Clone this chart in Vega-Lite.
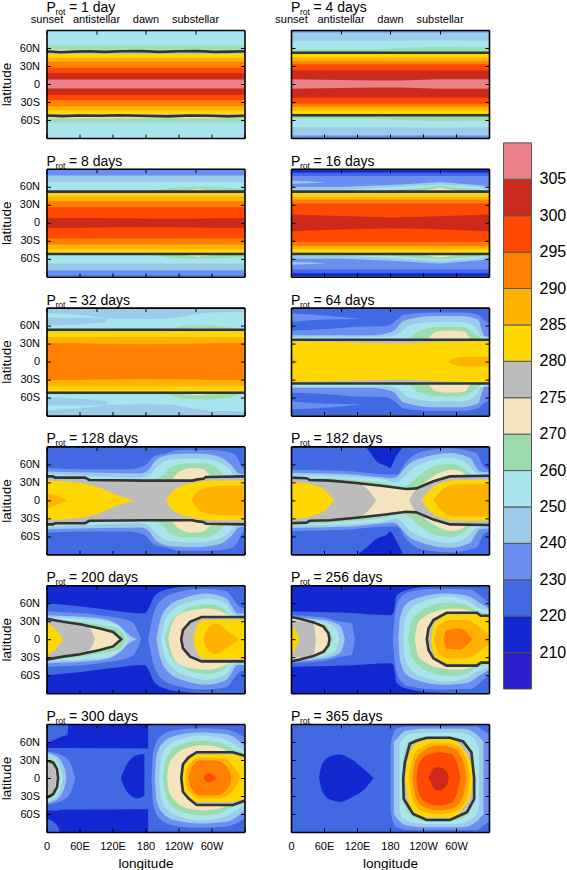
{"$schema":"https://vega.github.io/schema/vega-lite/v6.json","padding":{"left":-1.5,"top":0,"right":0,"bottom":0},"background":"white","spacing":13,
"config":{"view":{"stroke":null},"font":"Liberation Sans","range":{"ordinal":["#2a1fc8","#1428d2","#4169e1","#6a8ff0","#9bcbe8","#a8e4ec","#9cdbab","#f3e4bd","#bcbcbc","#ffd700","#ffb300","#ff8000","#ff4800","#cd2a1e","#ea8088"]},"axis":{"grid":false,"domainColor":"black","domainWidth":1.6,"tickColor":"black","tickWidth":1,"labelColor":"black","titleColor":"black","labelFont":"Liberation Sans","titleFont":"Liberation Sans","labelFontSize":11,"titleFontSize":13.5,"titleFontWeight":"normal","labelOverlap":false,"labelFlush":false,"labelBound":false},"text":{"font":"Liberation Sans","color":"black"}},
"datasets":{
"titles":[{"p":1,"t":"= 1 day"},{"p":2,"t":"= 4 days"},{"p":3,"t":"= 8 days"},{"p":4,"t":"= 16 days"},{"p":5,"t":"= 32 days"},{"p":6,"t":"= 64 days"},{"p":7,"t":"= 128 days"},{"p":8,"t":"= 182 days"},{"p":9,"t":"= 200 days"},{"p":10,"t":"= 256 days"},{"p":11,"t":"= 300 days"},{"p":12,"t":"= 365 days"}],
"bar":[{"i":0,"j":1,"b":0,"lab":"210"},{"i":1,"j":2,"b":1,"lab":"220"},{"i":2,"j":3,"b":2,"lab":"230"},{"i":3,"j":4,"b":3,"lab":"240"},{"i":4,"j":5,"b":4,"lab":"250"},{"i":5,"j":6,"b":5,"lab":"260"},{"i":6,"j":7,"b":6,"lab":"270"},{"i":7,"j":8,"b":7,"lab":"275"},{"i":8,"j":9,"b":8,"lab":"280"},{"i":9,"j":10,"b":9,"lab":"285"},{"i":10,"j":11,"b":10,"lab":"290"},{"i":11,"j":12,"b":11,"lab":"295"},{"i":12,"j":13,"b":12,"lab":"300"},{"i":13,"j":14,"b":13,"lab":"305"},{"i":14,"j":15,"b":14,"lab":""}],
"lines":[
{"p":1,"g":1,"i":0,"x":0,"y":54.5},{"p":1,"g":1,"i":1,"x":25,"y":53},{"p":1,"g":1,"i":2,"x":50,"y":54},{"p":1,"g":1,"i":3,"x":80,"y":54.5},{"p":1,"g":1,"i":4,"x":105,"y":53.5},{"p":1,"g":1,"i":5,"x":135,"y":54.5},{"p":1,"g":1,"i":6,"x":170,"y":55},{"p":1,"g":1,"i":7,"x":205,"y":53.5},{"p":1,"g":1,"i":8,"x":240,"y":54.5},{"p":1,"g":1,"i":9,"x":275,"y":55},{"p":1,"g":1,"i":10,"x":305,"y":53.5},{"p":1,"g":1,"i":11,"x":335,"y":54},{"p":1,"g":1,"i":12,"x":360,"y":54.5},
{"p":1,"g":2,"i":0,"x":0,"y":-52.5},{"p":1,"g":2,"i":1,"x":30,"y":-53.5},{"p":1,"g":2,"i":2,"x":60,"y":-52.5},{"p":1,"g":2,"i":3,"x":100,"y":-53},{"p":1,"g":2,"i":4,"x":130,"y":-52},{"p":1,"g":2,"i":5,"x":170,"y":-53},{"p":1,"g":2,"i":6,"x":220,"y":-54},{"p":1,"g":2,"i":7,"x":260,"y":-52.5},{"p":1,"g":2,"i":8,"x":300,"y":-53},{"p":1,"g":2,"i":9,"x":330,"y":-54},{"p":1,"g":2,"i":10,"x":360,"y":-53},
{"p":2,"g":1,"i":0,"x":0,"y":52},{"p":2,"g":1,"i":1,"x":360,"y":52},{"p":2,"g":2,"i":0,"x":0,"y":-52},{"p":2,"g":2,"i":1,"x":360,"y":-52},
{"p":3,"g":1,"i":0,"x":0,"y":52},{"p":3,"g":1,"i":1,"x":360,"y":52},{"p":3,"g":2,"i":0,"x":0,"y":-52},{"p":3,"g":2,"i":1,"x":360,"y":-52},
{"p":4,"g":1,"i":0,"x":0,"y":52},{"p":4,"g":1,"i":1,"x":360,"y":52},{"p":4,"g":2,"i":0,"x":0,"y":-52},{"p":4,"g":2,"i":1,"x":360,"y":-52},
{"p":5,"g":1,"i":0,"x":0,"y":53},{"p":5,"g":1,"i":1,"x":360,"y":53},{"p":5,"g":2,"i":0,"x":0,"y":-52},{"p":5,"g":2,"i":1,"x":360,"y":-52},
{"p":6,"g":1,"i":0,"x":0,"y":36.5},{"p":6,"g":1,"i":1,"x":360,"y":36.5},{"p":6,"g":2,"i":0,"x":0,"y":-36.5},{"p":6,"g":2,"i":1,"x":360,"y":-36.5},
{"p":7,"g":1,"i":0,"x":0,"y":40},{"p":7,"g":1,"i":1,"x":12,"y":40},{"p":7,"g":1,"i":2,"x":16,"y":38},{"p":7,"g":1,"i":3,"x":70,"y":38},{"p":7,"g":1,"i":4,"x":78,"y":34},{"p":7,"g":1,"i":5,"x":180,"y":33},{"p":7,"g":1,"i":6,"x":265,"y":33},{"p":7,"g":1,"i":7,"x":275,"y":35},{"p":7,"g":1,"i":8,"x":285,"y":36},{"p":7,"g":1,"i":9,"x":290,"y":39},{"p":7,"g":1,"i":10,"x":360,"y":40},
{"p":7,"g":2,"i":0,"x":0,"y":-40},{"p":7,"g":2,"i":1,"x":12,"y":-40},{"p":7,"g":2,"i":2,"x":16,"y":-38},{"p":7,"g":2,"i":3,"x":70,"y":-38},{"p":7,"g":2,"i":4,"x":78,"y":-34},{"p":7,"g":2,"i":5,"x":180,"y":-33},{"p":7,"g":2,"i":6,"x":265,"y":-33},{"p":7,"g":2,"i":7,"x":275,"y":-35},{"p":7,"g":2,"i":8,"x":285,"y":-36},{"p":7,"g":2,"i":9,"x":290,"y":-39},{"p":7,"g":2,"i":10,"x":360,"y":-40},
{"p":8,"g":1,"i":0,"x":0,"y":38},{"p":8,"g":1,"i":1,"x":28,"y":37},{"p":8,"g":1,"i":2,"x":34,"y":34},{"p":8,"g":1,"i":3,"x":71,"y":33},{"p":8,"g":1,"i":4,"x":119,"y":29},{"p":8,"g":1,"i":5,"x":168,"y":24},{"p":8,"g":1,"i":6,"x":210,"y":19},{"p":8,"g":1,"i":7,"x":228,"y":20},{"p":8,"g":1,"i":8,"x":259,"y":32},{"p":8,"g":1,"i":9,"x":289,"y":40},{"p":8,"g":1,"i":10,"x":360,"y":41},
{"p":8,"g":2,"i":0,"x":0,"y":-38},{"p":8,"g":2,"i":1,"x":28,"y":-37},{"p":8,"g":2,"i":2,"x":34,"y":-34},{"p":8,"g":2,"i":3,"x":71,"y":-33},{"p":8,"g":2,"i":4,"x":119,"y":-29},{"p":8,"g":2,"i":5,"x":168,"y":-24},{"p":8,"g":2,"i":6,"x":210,"y":-19},{"p":8,"g":2,"i":7,"x":228,"y":-20},{"p":8,"g":2,"i":8,"x":259,"y":-32},{"p":8,"g":2,"i":9,"x":289,"y":-40},{"p":8,"g":2,"i":10,"x":360,"y":-41},
{"p":9,"g":1,"i":0,"x":0,"y":34},{"p":9,"g":1,"i":1,"x":12,"y":32},{"p":9,"g":1,"i":2,"x":30,"y":29},{"p":9,"g":1,"i":3,"x":61,"y":25},{"p":9,"g":1,"i":4,"x":97,"y":18},{"p":9,"g":1,"i":5,"x":121,"y":12},{"p":9,"g":1,"i":6,"x":136,"y":0},{"p":9,"g":1,"i":7,"x":121,"y":-12},{"p":9,"g":1,"i":8,"x":97,"y":-18},{"p":9,"g":1,"i":9,"x":61,"y":-25},{"p":9,"g":1,"i":10,"x":30,"y":-29},{"p":9,"g":1,"i":11,"x":12,"y":-32},{"p":9,"g":1,"i":12,"x":0,"y":-34},
{"p":9,"g":2,"i":0,"x":360,"y":37},{"p":9,"g":2,"i":1,"x":282,"y":37},{"p":9,"g":2,"i":2,"x":261,"y":29},{"p":9,"g":2,"i":3,"x":248,"y":15},{"p":9,"g":2,"i":4,"x":245,"y":0},{"p":9,"g":2,"i":5,"x":248,"y":-15},{"p":9,"g":2,"i":6,"x":261,"y":-29},{"p":9,"g":2,"i":7,"x":282,"y":-37},{"p":9,"g":2,"i":8,"x":360,"y":-37},
{"p":10,"g":1,"i":0,"x":0,"y":37},{"p":10,"g":1,"i":1,"x":16,"y":34},{"p":10,"g":1,"i":2,"x":41,"y":28},{"p":10,"g":1,"i":3,"x":59,"y":21},{"p":10,"g":1,"i":4,"x":68,"y":10},{"p":10,"g":1,"i":5,"x":70,"y":0},{"p":10,"g":1,"i":6,"x":68,"y":-10},{"p":10,"g":1,"i":7,"x":59,"y":-21},{"p":10,"g":1,"i":8,"x":41,"y":-28},{"p":10,"g":1,"i":9,"x":16,"y":-34},{"p":10,"g":1,"i":10,"x":0,"y":-37},
{"p":10,"g":2,"i":0,"x":360,"y":39},{"p":10,"g":2,"i":1,"x":345,"y":39},{"p":10,"g":2,"i":2,"x":338,"y":44},{"p":10,"g":2,"i":3,"x":283,"y":44},{"p":10,"g":2,"i":4,"x":259,"y":32},{"p":10,"g":2,"i":5,"x":250,"y":18},{"p":10,"g":2,"i":6,"x":247,"y":0},{"p":10,"g":2,"i":7,"x":250,"y":-18},{"p":10,"g":2,"i":8,"x":259,"y":-32},{"p":10,"g":2,"i":9,"x":283,"y":-44},{"p":10,"g":2,"i":10,"x":338,"y":-44},{"p":10,"g":2,"i":11,"x":345,"y":-39},{"p":10,"g":2,"i":12,"x":360,"y":-39},
{"p":11,"g":1,"i":0,"x":0,"y":29},{"p":11,"g":1,"i":1,"x":12,"y":26},{"p":11,"g":1,"i":2,"x":19,"y":15},{"p":11,"g":1,"i":3,"x":21,"y":0},{"p":11,"g":1,"i":4,"x":19,"y":-15},{"p":11,"g":1,"i":5,"x":12,"y":-27},{"p":11,"g":1,"i":6,"x":0,"y":-33},
{"p":11,"g":2,"i":0,"x":360,"y":37},{"p":11,"g":2,"i":1,"x":339,"y":43},{"p":11,"g":2,"i":2,"x":273,"y":43},{"p":11,"g":2,"i":3,"x":258,"y":34},{"p":11,"g":2,"i":4,"x":248,"y":23},{"p":11,"g":2,"i":5,"x":245,"y":0},{"p":11,"g":2,"i":6,"x":248,"y":-23},{"p":11,"g":2,"i":7,"x":258,"y":-34},{"p":11,"g":2,"i":8,"x":273,"y":-45},{"p":11,"g":2,"i":9,"x":339,"y":-45},{"p":11,"g":2,"i":10,"x":360,"y":-38},
{"p":12,"g":1,"i":0,"x":204,"y":0},{"p":12,"g":1,"i":1,"x":207,"y":26},{"p":12,"g":1,"i":2,"x":216,"y":57},{"p":12,"g":1,"i":3,"x":228,"y":62},{"p":12,"g":1,"i":4,"x":247,"y":67},{"p":12,"g":1,"i":5,"x":289,"y":67},{"p":12,"g":1,"i":6,"x":313,"y":61},{"p":12,"g":1,"i":7,"x":328,"y":43},{"p":12,"g":1,"i":8,"x":333,"y":0},{"p":12,"g":1,"i":9,"x":333,"y":-35},{"p":12,"g":1,"i":10,"x":320,"y":-57},{"p":12,"g":1,"i":11,"x":289,"y":-70},{"p":12,"g":1,"i":12,"x":247,"y":-70},{"p":12,"g":1,"i":13,"x":222,"y":-60},{"p":12,"g":1,"i":14,"x":205,"y":-35},{"p":12,"g":1,"i":15,"x":204,"y":0}
],
"bands":[
{"p":1,"b":5,"x":0,"y0":-90,"y1":90},{"p":1,"b":5,"x":360,"y0":-90,"y1":90},{"p":1,"b":6,"x":0,"y0":-64,"y1":64},{"p":1,"b":6,"x":360,"y0":-64,"y1":64},{"p":1,"b":7,"x":0,"y0":-57,"y1":57},{"p":1,"b":7,"x":360,"y0":-57,"y1":57},{"p":1,"b":8,"x":0,"y0":-55.5,"y1":55.5},{"p":1,"b":8,"x":360,"y0":-55.5,"y1":55.5},{"p":1,"b":9,"x":0,"y0":-50,"y1":50},{"p":1,"b":9,"x":360,"y0":-50,"y1":50},{"p":1,"b":10,"x":0,"y0":-44,"y1":44},{"p":1,"b":10,"x":360,"y0":-44,"y1":44},{"p":1,"b":11,"x":0,"y0":-37,"y1":37},{"p":1,"b":11,"x":360,"y0":-37,"y1":37},{"p":1,"b":12,"x":0,"y0":-27,"y1":27},{"p":1,"b":12,"x":360,"y0":-27,"y1":27},{"p":1,"b":13,"x":0,"y0":-18,"y1":18},{"p":1,"b":13,"x":360,"y0":-18,"y1":18},{"p":1,"b":14,"x":0,"y0":-7.5,"y1":7.5},{"p":1,"b":14,"x":360,"y0":-7.5,"y1":7.5},
{"p":2,"b":3,"x":0,"y0":-90,"y1":90},{"p":2,"b":3,"x":360,"y0":-90,"y1":90},{"p":2,"b":4,"x":0,"y0":-86,"y1":86},{"p":2,"b":4,"x":360,"y0":-86,"y1":86},{"p":2,"b":5,"x":0,"y0":-72,"y1":72},{"p":2,"b":5,"x":150,"y0":-72,"y1":72},{"p":2,"b":5,"x":270,"y0":-73,"y1":73},{"p":2,"b":5,"x":360,"y0":-72,"y1":72},{"p":2,"b":6,"x":0,"y0":-57,"y1":57},{"p":2,"b":6,"x":150,"y0":-57,"y1":57},{"p":2,"b":6,"x":200,"y0":-60,"y1":60},{"p":2,"b":6,"x":270,"y0":-62,"y1":62},{"p":2,"b":6,"x":360,"y0":-61,"y1":61},{"p":2,"b":8,"x":0,"y0":-53,"y1":53},{"p":2,"b":8,"x":360,"y0":-53,"y1":53},{"p":2,"b":9,"x":0,"y0":-50,"y1":50},{"p":2,"b":9,"x":360,"y0":-50,"y1":50},{"p":2,"b":10,"x":0,"y0":-44,"y1":44},{"p":2,"b":10,"x":360,"y0":-44,"y1":44},{"p":2,"b":11,"x":0,"y0":-38,"y1":38},{"p":2,"b":11,"x":360,"y0":-38,"y1":38},{"p":2,"b":12,"x":0,"y0":-33,"y1":33},{"p":2,"b":12,"x":360,"y0":-33,"y1":33},{"p":2,"b":13,"x":0,"y0":-23,"y1":23},{"p":2,"b":13,"x":360,"y0":-23,"y1":23},{"p":2,"b":14,"x":0,"y0":-8,"y1":8},{"p":2,"b":14,"x":150,"y0":-6,"y1":6},{"p":2,"b":14,"x":200,"y0":-6,"y1":6},{"p":2,"b":14,"x":270,"y0":-8,"y1":8},{"p":2,"b":14,"x":360,"y0":-8,"y1":8},
{"p":3,"b":2,"x":0,"y0":-90,"y1":90},{"p":3,"b":2,"x":360,"y0":-90,"y1":90},{"p":3,"b":3,"x":0,"y0":-88,"y1":88},{"p":3,"b":3,"x":360,"y0":-88,"y1":88},{"p":3,"b":4,"x":0,"y0":-79,"y1":79},{"p":3,"b":4,"x":360,"y0":-79,"y1":79},{"p":3,"b":5,"x":0,"y0":-68,"y1":68},{"p":3,"b":5,"x":360,"y0":-68,"y1":68},{"p":3,"b":6,"x":190,"y0":-53,"y1":53},{"p":3,"b":6,"x":230,"y0":-59,"y1":59},{"p":3,"b":6,"x":270,"y0":-60,"y1":60},{"p":3,"b":6,"x":330,"y0":-59,"y1":59},{"p":3,"b":6,"x":360,"y0":-56,"y1":56},{"p":3,"b":7,"x":245,"y0":-53,"y1":53},{"p":3,"b":7,"x":275,"y0":-56.5,"y1":56.5},{"p":3,"b":7,"x":310,"y0":-53,"y1":53},{"p":3,"b":8,"x":0,"y0":-53,"y1":53},{"p":3,"b":8,"x":360,"y0":-53,"y1":53},{"p":3,"b":9,"x":0,"y0":-50,"y1":50},{"p":3,"b":9,"x":360,"y0":-50,"y1":50},{"p":3,"b":10,"x":0,"y0":-44,"y1":44},{"p":3,"b":10,"x":360,"y0":-44,"y1":44},{"p":3,"b":11,"x":0,"y0":-36,"y1":36},{"p":3,"b":11,"x":360,"y0":-36,"y1":36},{"p":3,"b":12,"x":0,"y0":-26,"y1":26},{"p":3,"b":12,"x":360,"y0":-26,"y1":26},{"p":3,"b":13,"x":0,"y0":-9,"y1":8},{"p":3,"b":13,"x":90,"y0":-8,"y1":8},{"p":3,"b":13,"x":180,"y0":-7,"y1":7},{"p":3,"b":13,"x":270,"y0":-8,"y1":7},{"p":3,"b":13,"x":360,"y0":-9,"y1":8},
{"p":4,"b":1,"x":0,"y0":-90,"y1":90},{"p":4,"b":1,"x":360,"y0":-90,"y1":90},{"p":4,"b":2,"x":0,"y0":-84,"y1":84},{"p":4,"b":2,"x":360,"y0":-84,"y1":84},{"p":4,"b":3,"x":0,"y0":-78,"y1":78},{"p":4,"b":3,"x":360,"y0":-78,"y1":78},{"p":4,"b":4,"x":0,"y0":-60,"y1":60},{"p":4,"b":4,"x":100,"y0":-60,"y1":60},{"p":4,"b":4,"x":200,"y0":-64,"y1":64},{"p":4,"b":4,"x":270,"y0":-68,"y1":68},{"p":4,"b":4,"x":340,"y0":-63,"y1":63},{"p":4,"b":4,"x":360,"y0":-60,"y1":60},{"p":4,"b":4,"g":2,"x":0,"y0":65,"y1":70},{"p":4,"b":4,"g":2,"x":60,"y0":67,"y1":68},{"p":4,"b":4,"g":3,"x":0,"y0":-70,"y1":-65},{"p":4,"b":4,"g":3,"x":60,"y0":-68,"y1":-67},{"p":4,"b":5,"x":0,"y0":-55,"y1":55},{"p":4,"b":5,"x":100,"y0":-55,"y1":55},{"p":4,"b":5,"x":200,"y0":-60,"y1":60},{"p":4,"b":5,"x":270,"y0":-64,"y1":64},{"p":4,"b":5,"x":340,"y0":-60,"y1":60},{"p":4,"b":5,"x":360,"y0":-55,"y1":55},{"p":4,"b":6,"x":150,"y0":-52,"y1":52},{"p":4,"b":6,"x":200,"y0":-56,"y1":56},{"p":4,"b":6,"x":270,"y0":-61,"y1":61},{"p":4,"b":6,"x":340,"y0":-56,"y1":56},{"p":4,"b":6,"x":360,"y0":-52,"y1":52},{"p":4,"b":7,"x":235,"y0":-53,"y1":53},{"p":4,"b":7,"x":270,"y0":-58,"y1":58},{"p":4,"b":7,"x":310,"y0":-53,"y1":53},{"p":4,"b":8,"x":0,"y0":-53,"y1":53},{"p":4,"b":8,"x":360,"y0":-53,"y1":53},{"p":4,"b":9,"x":0,"y0":-50,"y1":50},{"p":4,"b":9,"x":360,"y0":-50,"y1":50},{"p":4,"b":10,"x":0,"y0":-44,"y1":44},{"p":4,"b":10,"x":360,"y0":-44,"y1":44},{"p":4,"b":11,"x":0,"y0":-39,"y1":39},{"p":4,"b":11,"x":360,"y0":-39,"y1":39},{"p":4,"b":12,"x":0,"y0":-32,"y1":32},{"p":4,"b":12,"x":360,"y0":-32,"y1":32},{"p":4,"b":13,"x":0,"y0":-14,"y1":14},{"p":4,"b":13,"x":60,"y0":-12,"y1":12},{"p":4,"b":13,"x":180,"y0":-9,"y1":9},{"p":4,"b":13,"x":240,"y0":-10,"y1":10},{"p":4,"b":13,"x":360,"y0":-14,"y1":14},
{"p":5,"b":5,"x":0,"y0":-90,"y1":90},{"p":5,"b":5,"x":360,"y0":-90,"y1":90},{"p":5,"b":4,"g":1,"x":0,"y0":81,"y1":90},{"p":5,"b":4,"g":1,"x":60,"y0":78,"y1":90},{"p":5,"b":4,"g":1,"x":110,"y0":72,"y1":90},{"p":5,"b":4,"g":1,"x":180,"y0":71,"y1":90},{"p":5,"b":4,"g":1,"x":230,"y0":72,"y1":90},{"p":5,"b":4,"g":1,"x":270,"y0":79,"y1":90},{"p":5,"b":4,"g":1,"x":300,"y0":82,"y1":90},{"p":5,"b":4,"g":1,"x":360,"y0":83,"y1":90},{"p":5,"b":4,"g":2,"x":0,"y0":-90,"y1":-81},{"p":5,"b":4,"g":2,"x":60,"y0":-90,"y1":-78},{"p":5,"b":4,"g":2,"x":110,"y0":-90,"y1":-72},{"p":5,"b":4,"g":2,"x":180,"y0":-90,"y1":-71},{"p":5,"b":4,"g":2,"x":230,"y0":-90,"y1":-72},{"p":5,"b":4,"g":2,"x":270,"y0":-90,"y1":-79},{"p":5,"b":4,"g":2,"x":300,"y0":-90,"y1":-82},{"p":5,"b":4,"g":2,"x":360,"y0":-90,"y1":-83},{"p":5,"b":4,"g":3,"x":0,"y0":60,"y1":73},{"p":5,"b":4,"g":3,"x":60,"y0":62,"y1":73},{"p":5,"b":4,"g":3,"x":110,"y0":66,"y1":72},{"p":5,"b":4,"g":4,"x":0,"y0":-73,"y1":-60},{"p":5,"b":4,"g":4,"x":60,"y0":-73,"y1":-62},{"p":5,"b":4,"g":4,"x":110,"y0":-72,"y1":-66},{"p":5,"b":6,"x":210,"y0":-53,"y1":53},{"p":5,"b":6,"x":250,"y0":-62,"y1":60},{"p":5,"b":6,"x":300,"y0":-63,"y1":60},{"p":5,"b":6,"x":340,"y0":-58,"y1":56},{"p":5,"b":6,"x":350,"y0":-53,"y1":53},{"p":5,"b":7,"x":250,"y0":-54,"y1":54},{"p":5,"b":7,"x":275,"y0":-56,"y1":56},{"p":5,"b":7,"x":300,"y0":-54,"y1":54},{"p":5,"b":8,"x":0,"y0":-53,"y1":53},{"p":5,"b":8,"x":360,"y0":-53,"y1":53},{"p":5,"b":9,"x":0,"y0":-50,"y1":50},{"p":5,"b":9,"x":360,"y0":-50,"y1":50},{"p":5,"b":10,"x":0,"y0":-41,"y1":41},{"p":5,"b":10,"x":360,"y0":-41,"y1":41},{"p":5,"b":11,"x":0,"y0":-31,"y1":31},{"p":5,"b":11,"x":180,"y0":-29,"y1":29},{"p":5,"b":11,"x":360,"y0":-31,"y1":31},
{"p":6,"b":2,"x":0,"y0":-90,"y1":90},{"p":6,"b":2,"x":360,"y0":-90,"y1":90},{"p":6,"b":3,"g":1,"x":0,"y0":-52,"y1":52},{"p":6,"b":3,"g":1,"x":60,"y0":-54,"y1":54},{"p":6,"b":3,"g":1,"x":120,"y0":-58,"y1":58},{"p":6,"b":3,"g":1,"x":170,"y0":-59,"y1":59},{"p":6,"b":3,"g":1,"x":185,"y0":-64,"y1":64},{"p":6,"b":3,"g":1,"x":205,"y0":-78,"y1":78},{"p":6,"b":3,"g":1,"x":260,"y0":-82,"y1":82},{"p":6,"b":3,"g":1,"x":310,"y0":-82,"y1":82},{"p":6,"b":3,"g":1,"x":340,"y0":-78,"y1":78},{"p":6,"b":3,"g":1,"x":350,"y0":-70,"y1":70},{"p":6,"b":3,"g":1,"x":360,"y0":-65,"y1":65},{"p":6,"b":3,"g":2,"x":0,"y0":66,"y1":80},{"p":6,"b":3,"g":2,"x":60,"y0":70,"y1":77},{"p":6,"b":3,"g":2,"x":130,"y0":71,"y1":71},{"p":6,"b":3,"g":3,"x":0,"y0":-80,"y1":-66},{"p":6,"b":3,"g":3,"x":60,"y0":-77,"y1":-70},{"p":6,"b":3,"g":3,"x":130,"y0":-71,"y1":-71},{"p":6,"b":4,"x":0,"y0":-44,"y1":44},{"p":6,"b":4,"x":150,"y0":-44,"y1":44},{"p":6,"b":4,"x":185,"y0":-50,"y1":50},{"p":6,"b":4,"x":205,"y0":-68,"y1":68},{"p":6,"b":4,"x":260,"y0":-76,"y1":76},{"p":6,"b":4,"x":310,"y0":-76,"y1":76},{"p":6,"b":4,"x":340,"y0":-70,"y1":70},{"p":6,"b":4,"x":348,"y0":-50,"y1":50},{"p":6,"b":4,"x":352,"y0":-42,"y1":42},{"p":6,"b":4,"x":360,"y0":-42,"y1":42},{"p":6,"b":5,"x":0,"y0":-41,"y1":41},{"p":6,"b":5,"x":170,"y0":-41,"y1":41},{"p":6,"b":5,"x":195,"y0":-46,"y1":46},{"p":6,"b":5,"x":215,"y0":-60,"y1":60},{"p":6,"b":5,"x":260,"y0":-66,"y1":66},{"p":6,"b":5,"x":310,"y0":-66,"y1":66},{"p":6,"b":5,"x":335,"y0":-58,"y1":58},{"p":6,"b":5,"x":345,"y0":-44,"y1":44},{"p":6,"b":5,"x":360,"y0":-40,"y1":40},{"p":6,"b":6,"x":215,"y0":-38,"y1":38},{"p":6,"b":6,"x":235,"y0":-52,"y1":52},{"p":6,"b":6,"x":270,"y0":-58,"y1":58},{"p":6,"b":6,"x":310,"y0":-58,"y1":58},{"p":6,"b":6,"x":335,"y0":-46,"y1":46},{"p":6,"b":6,"x":345,"y0":-38,"y1":38},{"p":6,"b":7,"x":250,"y0":-38,"y1":38},{"p":6,"b":7,"x":265,"y0":-50,"y1":50},{"p":6,"b":7,"x":290,"y0":-52,"y1":52},{"p":6,"b":7,"x":315,"y0":-50,"y1":50},{"p":6,"b":7,"x":325,"y0":-38,"y1":38},{"p":6,"b":8,"x":0,"y0":-36.5,"y1":36.5},{"p":6,"b":8,"x":360,"y0":-36.5,"y1":36.5},{"p":6,"b":9,"x":0,"y0":-34,"y1":34},{"p":6,"b":9,"x":100,"y0":-32,"y1":32},{"p":6,"b":9,"x":200,"y0":-30,"y1":30},{"p":6,"b":9,"x":280,"y0":-33,"y1":33},{"p":6,"b":9,"x":360,"y0":-34,"y1":34},{"p":6,"b":10,"g":1,"x":0,"y0":-6,"y1":6},{"p":6,"b":10,"g":1,"x":15,"y0":0,"y1":0},{"p":6,"b":10,"g":2,"x":285,"y0":0,"y1":0},{"p":6,"b":10,"g":2,"x":300,"y0":-6,"y1":6},{"p":6,"b":10,"g":2,"x":325,"y0":-8,"y1":8},{"p":6,"b":10,"g":2,"x":360,"y0":-8,"y1":8},
{"p":7,"b":2,"x":0,"y0":-90,"y1":90},{"p":7,"b":2,"x":360,"y0":-90,"y1":90},{"p":7,"b":3,"x":0,"y0":-54,"y1":54},{"p":7,"b":3,"x":60,"y0":-52,"y1":52},{"p":7,"b":3,"x":150,"y0":-52,"y1":52},{"p":7,"b":3,"x":180,"y0":-59,"y1":59},{"p":7,"b":3,"x":195,"y0":-73,"y1":73},{"p":7,"b":3,"x":220,"y0":-79,"y1":79},{"p":7,"b":3,"x":240,"y0":-84,"y1":84},{"p":7,"b":3,"x":300,"y0":-84,"y1":84},{"p":7,"b":3,"x":340,"y0":-78,"y1":78},{"p":7,"b":3,"x":355,"y0":-57,"y1":57},{"p":7,"b":3,"x":360,"y0":-50,"y1":50},{"p":7,"b":4,"x":0,"y0":-48,"y1":48},{"p":7,"b":4,"x":100,"y0":-46,"y1":46},{"p":7,"b":4,"x":170,"y0":-45,"y1":45},{"p":7,"b":4,"x":185,"y0":-50,"y1":50},{"p":7,"b":4,"x":200,"y0":-68,"y1":68},{"p":7,"b":4,"x":230,"y0":-77,"y1":77},{"p":7,"b":4,"x":270,"y0":-78,"y1":78},{"p":7,"b":4,"x":310,"y0":-74,"y1":74},{"p":7,"b":4,"x":335,"y0":-60,"y1":60},{"p":7,"b":4,"x":350,"y0":-45,"y1":45},{"p":7,"b":4,"x":360,"y0":-44,"y1":44},{"p":7,"b":5,"x":0,"y0":-44,"y1":44},{"p":7,"b":5,"x":100,"y0":-40,"y1":40},{"p":7,"b":5,"x":170,"y0":-38,"y1":38},{"p":7,"b":5,"x":185,"y0":-42,"y1":42},{"p":7,"b":5,"x":200,"y0":-55,"y1":55},{"p":7,"b":5,"x":225,"y0":-68,"y1":68},{"p":7,"b":5,"x":270,"y0":-70,"y1":70},{"p":7,"b":5,"x":305,"y0":-66,"y1":66},{"p":7,"b":5,"x":330,"y0":-55,"y1":55},{"p":7,"b":5,"x":345,"y0":-42,"y1":42},{"p":7,"b":5,"x":360,"y0":-42,"y1":42},{"p":7,"b":6,"x":0,"y0":-42,"y1":42},{"p":7,"b":6,"x":80,"y0":-36,"y1":36},{"p":7,"b":6,"x":185,"y0":-34,"y1":34},{"p":7,"b":6,"x":210,"y0":-40,"y1":40},{"p":7,"b":6,"x":225,"y0":-55,"y1":55},{"p":7,"b":6,"x":260,"y0":-62,"y1":62},{"p":7,"b":6,"x":290,"y0":-62,"y1":62},{"p":7,"b":6,"x":315,"y0":-50,"y1":50},{"p":7,"b":6,"x":325,"y0":-41,"y1":41},{"p":7,"b":6,"x":360,"y0":-41,"y1":41},{"p":7,"b":7,"x":0,"y0":-41,"y1":41},{"p":7,"b":7,"x":80,"y0":-35,"y1":35},{"p":7,"b":7,"x":225,"y0":-34,"y1":34},{"p":7,"b":7,"x":240,"y0":-47,"y1":47},{"p":7,"b":7,"x":265,"y0":-54,"y1":54},{"p":7,"b":7,"x":285,"y0":-52,"y1":52},{"p":7,"b":7,"x":300,"y0":-42,"y1":42},{"p":7,"b":7,"x":360,"y0":-41,"y1":41},{"p":7,"b":8,"x":0,"y0":-40,"y1":40},{"p":7,"b":8,"x":12,"y0":-40,"y1":40},{"p":7,"b":8,"x":16,"y0":-38,"y1":38},{"p":7,"b":8,"x":70,"y0":-38,"y1":38},{"p":7,"b":8,"x":78,"y0":-34,"y1":34},{"p":7,"b":8,"x":180,"y0":-33,"y1":33},{"p":7,"b":8,"x":265,"y0":-33,"y1":33},{"p":7,"b":8,"x":285,"y0":-36,"y1":36},{"p":7,"b":8,"x":290,"y0":-39,"y1":39},{"p":7,"b":8,"x":360,"y0":-40,"y1":40},{"p":7,"b":9,"g":1,"x":0,"y0":-33,"y1":33},{"p":7,"b":9,"g":1,"x":60,"y0":-29,"y1":29},{"p":7,"b":9,"g":1,"x":100,"y0":-20,"y1":20},{"p":7,"b":9,"g":1,"x":130,"y0":-8,"y1":8},{"p":7,"b":9,"g":1,"x":160,"y0":0,"y1":0},{"p":7,"b":9,"g":2,"x":218,"y0":0,"y1":0},{"p":7,"b":9,"g":2,"x":225,"y0":-12,"y1":12},{"p":7,"b":9,"g":2,"x":240,"y0":-22,"y1":22},{"p":7,"b":9,"g":2,"x":270,"y0":-30,"y1":30},{"p":7,"b":9,"g":2,"x":300,"y0":-33,"y1":33},{"p":7,"b":9,"g":2,"x":360,"y0":-33,"y1":33},{"p":7,"b":10,"g":1,"x":0,"y0":-14,"y1":14},{"p":7,"b":10,"g":1,"x":39,"y0":0,"y1":0},{"p":7,"b":10,"g":2,"x":264,"y0":0,"y1":0},{"p":7,"b":10,"g":2,"x":275,"y0":-15,"y1":15},{"p":7,"b":10,"g":2,"x":300,"y0":-23,"y1":23},{"p":7,"b":10,"g":2,"x":330,"y0":-25,"y1":25},{"p":7,"b":10,"g":2,"x":360,"y0":-25,"y1":25},
{"p":8,"b":2,"x":0,"y0":-90,"y1":90},{"p":8,"b":2,"x":360,"y0":-90,"y1":90},{"p":8,"b":1,"g":1,"x":135,"y0":90,"y1":90},{"p":8,"b":1,"g":1,"x":138,"y0":87,"y1":90},{"p":8,"b":1,"g":1,"x":156,"y0":65,"y1":90},{"p":8,"b":1,"g":1,"x":174,"y0":57,"y1":90},{"p":8,"b":1,"g":1,"x":180,"y0":54,"y1":90},{"p":8,"b":1,"g":1,"x":189,"y0":70,"y1":90},{"p":8,"b":1,"g":1,"x":204,"y0":90,"y1":90},{"p":8,"b":1,"g":2,"x":120,"y0":-90,"y1":-90},{"p":8,"b":1,"g":2,"x":138,"y0":-90,"y1":-78},{"p":8,"b":1,"g":2,"x":156,"y0":-90,"y1":-64},{"p":8,"b":1,"g":2,"x":174,"y0":-90,"y1":-57},{"p":8,"b":1,"g":2,"x":180,"y0":-90,"y1":-52},{"p":8,"b":1,"g":2,"x":190,"y0":-90,"y1":-65},{"p":8,"b":1,"g":2,"x":204,"y0":-90,"y1":-90},{"p":8,"b":3,"x":0,"y0":-51,"y1":51},{"p":8,"b":3,"x":100,"y0":-49,"y1":49},{"p":8,"b":3,"x":160,"y0":-44,"y1":44},{"p":8,"b":3,"x":192,"y0":-43,"y1":43},{"p":8,"b":3,"x":210,"y0":-65,"y1":65},{"p":8,"b":3,"x":240,"y0":-82,"y1":82},{"p":8,"b":3,"x":289,"y0":-87,"y1":87},{"p":8,"b":3,"x":337,"y0":-79,"y1":79},{"p":8,"b":3,"x":350,"y0":-57,"y1":57},{"p":8,"b":3,"x":360,"y0":-51,"y1":51},{"p":8,"b":4,"x":0,"y0":-46,"y1":46},{"p":8,"b":4,"x":100,"y0":-44,"y1":44},{"p":8,"b":4,"x":170,"y0":-38,"y1":38},{"p":8,"b":4,"x":186,"y0":-37,"y1":37},{"p":8,"b":4,"x":216,"y0":-62,"y1":62},{"p":8,"b":4,"x":247,"y0":-73,"y1":73},{"p":8,"b":4,"x":289,"y0":-79,"y1":79},{"p":8,"b":4,"x":325,"y0":-71,"y1":71},{"p":8,"b":4,"x":344,"y0":-48,"y1":48},{"p":8,"b":4,"x":360,"y0":-47,"y1":47},{"p":8,"b":5,"x":0,"y0":-42,"y1":42},{"p":8,"b":5,"x":100,"y0":-40,"y1":40},{"p":8,"b":5,"x":170,"y0":-35,"y1":35},{"p":8,"b":5,"x":190,"y0":-30,"y1":30},{"p":8,"b":5,"x":222,"y0":-54,"y1":54},{"p":8,"b":5,"x":253,"y0":-66,"y1":66},{"p":8,"b":5,"x":289,"y0":-71,"y1":71},{"p":8,"b":5,"x":319,"y0":-62,"y1":62},{"p":8,"b":5,"x":337,"y0":-46,"y1":46},{"p":8,"b":5,"x":360,"y0":-42,"y1":42},{"p":8,"b":6,"x":0,"y0":-39,"y1":39},{"p":8,"b":6,"x":100,"y0":-35,"y1":35},{"p":8,"b":6,"x":170,"y0":-29,"y1":29},{"p":8,"b":6,"x":204,"y0":-23,"y1":23},{"p":8,"b":6,"x":235,"y0":-43,"y1":43},{"p":8,"b":6,"x":259,"y0":-57,"y1":57},{"p":8,"b":6,"x":289,"y0":-61,"y1":61},{"p":8,"b":6,"x":313,"y0":-54,"y1":54},{"p":8,"b":6,"x":328,"y0":-43,"y1":43},{"p":8,"b":6,"x":360,"y0":-41,"y1":41},{"p":8,"b":7,"x":0,"y0":-38,"y1":38},{"p":8,"b":7,"x":28,"y0":-37,"y1":37},{"p":8,"b":7,"x":34,"y0":-34,"y1":34},{"p":8,"b":7,"x":71,"y0":-33,"y1":33},{"p":8,"b":7,"x":119,"y0":-29,"y1":29},{"p":8,"b":7,"x":168,"y0":-24,"y1":24},{"p":8,"b":7,"x":228,"y0":-21,"y1":21},{"p":8,"b":7,"x":253,"y0":-37,"y1":37},{"p":8,"b":7,"x":277,"y0":-48,"y1":48},{"p":8,"b":7,"x":295,"y0":-51,"y1":51},{"p":8,"b":7,"x":313,"y0":-46,"y1":46},{"p":8,"b":7,"x":322,"y0":-40,"y1":40},{"p":8,"b":7,"x":360,"y0":-40,"y1":40},{"p":8,"b":8,"g":1,"x":0,"y0":-38,"y1":38},{"p":8,"b":8,"g":1,"x":28,"y0":-37,"y1":37},{"p":8,"b":8,"g":1,"x":34,"y0":-34,"y1":34},{"p":8,"b":8,"g":1,"x":71,"y0":-33,"y1":33},{"p":8,"b":8,"g":1,"x":122,"y0":-29,"y1":29},{"p":8,"b":8,"g":1,"x":155,"y0":0,"y1":0},{"p":8,"b":8,"g":2,"x":215,"y0":0,"y1":0},{"p":8,"b":8,"g":2,"x":228,"y0":-20,"y1":20},{"p":8,"b":8,"g":2,"x":259,"y0":-32,"y1":32},{"p":8,"b":8,"g":2,"x":289,"y0":-40,"y1":40},{"p":8,"b":8,"g":2,"x":360,"y0":-41,"y1":41},{"p":8,"b":9,"g":1,"x":0,"y0":-31,"y1":31},{"p":8,"b":9,"g":1,"x":40,"y0":-26,"y1":26},{"p":8,"b":9,"g":1,"x":60,"y0":-18,"y1":18},{"p":8,"b":9,"g":1,"x":78,"y0":0,"y1":0},{"p":8,"b":9,"g":2,"x":237,"y0":0,"y1":0},{"p":8,"b":9,"g":2,"x":250,"y0":-15,"y1":15},{"p":8,"b":9,"g":2,"x":265,"y0":-26,"y1":26},{"p":8,"b":9,"g":2,"x":300,"y0":-34,"y1":34},{"p":8,"b":9,"g":2,"x":360,"y0":-34,"y1":34},{"p":8,"b":10,"g":1,"x":0,"y0":-6,"y1":6},{"p":8,"b":10,"g":1,"x":6,"y0":0,"y1":0},{"p":8,"b":10,"g":2,"x":259,"y0":0,"y1":0},{"p":8,"b":10,"g":2,"x":275,"y0":-18,"y1":18},{"p":8,"b":10,"g":2,"x":300,"y0":-27,"y1":27},{"p":8,"b":10,"g":2,"x":360,"y0":-27,"y1":27},
{"p":9,"b":1,"x":0,"y0":-90,"y1":90},{"p":9,"b":1,"x":360,"y0":-90,"y1":90},{"p":9,"b":2,"x":0,"y0":-60,"y1":60},{"p":9,"b":2,"x":60,"y0":-55,"y1":55},{"p":9,"b":2,"x":120,"y0":-48,"y1":48},{"p":9,"b":2,"x":178,"y0":-43,"y1":43},{"p":9,"b":2,"x":185,"y0":-50,"y1":50},{"p":9,"b":2,"x":195,"y0":-70,"y1":70},{"p":9,"b":2,"x":215,"y0":-82,"y1":82},{"p":9,"b":2,"x":250,"y0":-88,"y1":88},{"p":9,"b":2,"x":280,"y0":-90,"y1":90},{"p":9,"b":2,"x":360,"y0":-90,"y1":90},{"p":9,"b":3,"g":1,"x":0,"y0":-46,"y1":46},{"p":9,"b":3,"g":1,"x":97,"y0":-40,"y1":40},{"p":9,"b":3,"g":1,"x":155,"y0":-29,"y1":29},{"p":9,"b":3,"g":1,"x":172,"y0":0,"y1":0},{"p":9,"b":3,"g":2,"x":185,"y0":0,"y1":0},{"p":9,"b":3,"g":2,"x":194,"y0":-40,"y1":40},{"p":9,"b":3,"g":2,"x":212,"y0":-68,"y1":68},{"p":9,"b":3,"g":2,"x":242,"y0":-79,"y1":79},{"p":9,"b":3,"g":2,"x":279,"y0":-84,"y1":84},{"p":9,"b":3,"g":2,"x":327,"y0":-80,"y1":80},{"p":9,"b":3,"g":2,"x":348,"y0":-57,"y1":57},{"p":9,"b":3,"g":2,"x":360,"y0":-51,"y1":51},{"p":9,"b":4,"g":1,"x":0,"y0":-40,"y1":40},{"p":9,"b":4,"g":1,"x":97,"y0":-35,"y1":35},{"p":9,"b":4,"g":1,"x":127,"y0":-26,"y1":26},{"p":9,"b":4,"g":1,"x":155,"y0":-4,"y1":4},{"p":9,"b":4,"g":1,"x":164,"y0":0,"y1":0},{"p":9,"b":4,"g":2,"x":200,"y0":0,"y1":0},{"p":9,"b":4,"g":2,"x":206,"y0":-29,"y1":29},{"p":9,"b":4,"g":2,"x":224,"y0":-57,"y1":57},{"p":9,"b":4,"g":2,"x":255,"y0":-70,"y1":70},{"p":9,"b":4,"g":2,"x":291,"y0":-76,"y1":76},{"p":9,"b":4,"g":2,"x":327,"y0":-68,"y1":68},{"p":9,"b":4,"g":2,"x":348,"y0":-43,"y1":43},{"p":9,"b":4,"g":2,"x":360,"y0":-43,"y1":43},{"p":9,"b":5,"g":1,"x":0,"y0":-36,"y1":36},{"p":9,"b":5,"g":1,"x":97,"y0":-32,"y1":32},{"p":9,"b":5,"g":1,"x":130,"y0":-23,"y1":23},{"p":9,"b":5,"g":1,"x":150,"y0":0,"y1":0},{"p":9,"b":5,"g":2,"x":208,"y0":0,"y1":0},{"p":9,"b":5,"g":2,"x":215,"y0":-29,"y1":29},{"p":9,"b":5,"g":2,"x":233,"y0":-51,"y1":51},{"p":9,"b":5,"g":2,"x":261,"y0":-62,"y1":62},{"p":9,"b":5,"g":2,"x":291,"y0":-68,"y1":68},{"p":9,"b":5,"g":2,"x":327,"y0":-59,"y1":59},{"p":9,"b":5,"g":2,"x":339,"y0":-43,"y1":43},{"p":9,"b":5,"g":2,"x":360,"y0":-38,"y1":38},{"p":9,"b":6,"g":1,"x":0,"y0":-34,"y1":34},{"p":9,"b":6,"g":1,"x":97,"y0":-24,"y1":24},{"p":9,"b":6,"g":1,"x":130,"y0":-18,"y1":18},{"p":9,"b":6,"g":1,"x":144,"y0":0,"y1":0},{"p":9,"b":6,"g":2,"x":215,"y0":0,"y1":0},{"p":9,"b":6,"g":2,"x":224,"y0":-26,"y1":26},{"p":9,"b":6,"g":2,"x":242,"y0":-43,"y1":43},{"p":9,"b":6,"g":2,"x":267,"y0":-55,"y1":55},{"p":9,"b":6,"g":2,"x":294,"y0":-58,"y1":58},{"p":9,"b":6,"g":2,"x":321,"y0":-51,"y1":51},{"p":9,"b":6,"g":2,"x":333,"y0":-40,"y1":40},{"p":9,"b":6,"g":2,"x":345,"y0":-36,"y1":36},{"p":9,"b":7,"g":1,"x":0,"y0":-32,"y1":32},{"p":9,"b":7,"g":1,"x":30,"y0":-28,"y1":28},{"p":9,"b":7,"g":1,"x":61,"y0":-24,"y1":24},{"p":9,"b":7,"g":1,"x":97,"y0":-17,"y1":17},{"p":9,"b":7,"g":1,"x":121,"y0":-11,"y1":11},{"p":9,"b":7,"g":1,"x":136,"y0":0,"y1":0},{"p":9,"b":7,"g":2,"x":221,"y0":0,"y1":0},{"p":9,"b":7,"g":2,"x":227,"y0":-22,"y1":22},{"p":9,"b":7,"g":2,"x":239,"y0":-40,"y1":40},{"p":9,"b":7,"g":2,"x":261,"y0":-48,"y1":48},{"p":9,"b":7,"g":2,"x":294,"y0":-51,"y1":51},{"p":9,"b":7,"g":2,"x":321,"y0":-45,"y1":45},{"p":9,"b":7,"g":2,"x":339,"y0":-37,"y1":37},{"p":9,"b":8,"g":1,"x":0,"y0":-33,"y1":33},{"p":9,"b":8,"g":1,"x":12,"y0":-30,"y1":30},{"p":9,"b":8,"g":1,"x":60,"y0":-25,"y1":25},{"p":9,"b":8,"g":1,"x":75,"y0":-22,"y1":22},{"p":9,"b":8,"g":1,"x":88,"y0":0,"y1":0},{"p":9,"b":8,"g":2,"x":245,"y0":0,"y1":0},{"p":9,"b":8,"g":2,"x":248,"y0":-15,"y1":15},{"p":9,"b":8,"g":2,"x":261,"y0":-29,"y1":29},{"p":9,"b":8,"g":2,"x":282,"y0":-37,"y1":37},{"p":9,"b":8,"g":2,"x":360,"y0":-37,"y1":37},{"p":9,"b":9,"g":1,"x":0,"y0":-26,"y1":26},{"p":9,"b":9,"g":1,"x":15,"y0":-18,"y1":18},{"p":9,"b":9,"g":1,"x":30,"y0":0,"y1":0},{"p":9,"b":9,"g":2,"x":267,"y0":0,"y1":0},{"p":9,"b":9,"g":2,"x":273,"y0":-21,"y1":21},{"p":9,"b":9,"g":2,"x":285,"y0":-32,"y1":32},{"p":9,"b":9,"g":2,"x":327,"y0":-33,"y1":33},{"p":9,"b":9,"g":2,"x":360,"y0":-33,"y1":33},{"p":9,"b":10,"x":285,"y0":0,"y1":0},{"p":9,"b":10,"x":291,"y0":-15,"y1":15},{"p":9,"b":10,"x":309,"y0":-25,"y1":26},{"p":9,"b":10,"x":327,"y0":-15,"y1":15},{"p":9,"b":10,"x":351,"y0":0,"y1":0},
{"p":10,"b":1,"x":0,"y0":-90,"y1":90},{"p":10,"b":1,"x":360,"y0":-90,"y1":90},{"p":10,"b":2,"x":0,"y0":-46,"y1":46},{"p":10,"b":2,"x":100,"y0":-44,"y1":44},{"p":10,"b":2,"x":180,"y0":-40,"y1":40},{"p":10,"b":2,"x":186,"y0":-43,"y1":43},{"p":10,"b":2,"x":192,"y0":-73,"y1":73},{"p":10,"b":2,"x":210,"y0":-82,"y1":82},{"p":10,"b":2,"x":265,"y0":-89,"y1":89},{"p":10,"b":2,"x":300,"y0":-90,"y1":90},{"p":10,"b":2,"x":360,"y0":-90,"y1":90},{"p":10,"b":3,"g":1,"x":0,"y0":-40,"y1":40},{"p":10,"b":3,"g":1,"x":60,"y0":-36,"y1":36},{"p":10,"b":3,"g":1,"x":85,"y0":-30,"y1":30},{"p":10,"b":3,"g":1,"x":110,"y0":-26,"y1":26},{"p":10,"b":3,"g":1,"x":116,"y0":0,"y1":0},{"p":10,"b":3,"g":2,"x":185,"y0":0,"y1":0},{"p":10,"b":3,"g":2,"x":189,"y0":-40,"y1":40},{"p":10,"b":3,"g":2,"x":198,"y0":-68,"y1":68},{"p":10,"b":3,"g":2,"x":216,"y0":-79,"y1":79},{"p":10,"b":3,"g":2,"x":265,"y0":-84,"y1":84},{"p":10,"b":3,"g":2,"x":325,"y0":-83,"y1":83},{"p":10,"b":3,"g":2,"x":350,"y0":-68,"y1":68},{"p":10,"b":3,"g":2,"x":360,"y0":-60,"y1":60},{"p":10,"b":4,"g":1,"x":0,"y0":-36,"y1":36},{"p":10,"b":4,"g":1,"x":60,"y0":-32,"y1":32},{"p":10,"b":4,"g":1,"x":89,"y0":-23,"y1":23},{"p":10,"b":4,"g":1,"x":98,"y0":0,"y1":0},{"p":10,"b":4,"g":2,"x":195,"y0":0,"y1":0},{"p":10,"b":4,"g":2,"x":198,"y0":-34,"y1":34},{"p":10,"b":4,"g":2,"x":210,"y0":-59,"y1":59},{"p":10,"b":4,"g":2,"x":235,"y0":-70,"y1":70},{"p":10,"b":4,"g":2,"x":277,"y0":-76,"y1":76},{"p":10,"b":4,"g":2,"x":319,"y0":-73,"y1":73},{"p":10,"b":4,"g":2,"x":344,"y0":-60,"y1":60},{"p":10,"b":4,"g":2,"x":360,"y0":-51,"y1":51},{"p":10,"b":5,"g":1,"x":0,"y0":-33,"y1":33},{"p":10,"b":5,"g":1,"x":50,"y0":-30,"y1":30},{"p":10,"b":5,"g":1,"x":80,"y0":-20,"y1":20},{"p":10,"b":5,"g":1,"x":88,"y0":0,"y1":0},{"p":10,"b":5,"g":2,"x":204,"y0":0,"y1":0},{"p":10,"b":5,"g":2,"x":207,"y0":-32,"y1":32},{"p":10,"b":5,"g":2,"x":222,"y0":-54,"y1":54},{"p":10,"b":5,"g":2,"x":247,"y0":-65,"y1":65},{"p":10,"b":5,"g":2,"x":283,"y0":-71,"y1":71},{"p":10,"b":5,"g":2,"x":319,"y0":-65,"y1":65},{"p":10,"b":5,"g":2,"x":337,"y0":-54,"y1":54},{"p":10,"b":5,"g":2,"x":360,"y0":-48,"y1":48},{"p":10,"b":6,"g":1,"x":0,"y0":-32,"y1":32},{"p":10,"b":6,"g":1,"x":60,"y0":-25,"y1":25},{"p":10,"b":6,"g":1,"x":77,"y0":0,"y1":0},{"p":10,"b":6,"g":2,"x":213,"y0":0,"y1":0},{"p":10,"b":6,"g":2,"x":219,"y0":-29,"y1":29},{"p":10,"b":6,"g":2,"x":235,"y0":-46,"y1":46},{"p":10,"b":6,"g":2,"x":259,"y0":-57,"y1":57},{"p":10,"b":6,"g":2,"x":289,"y0":-61,"y1":61},{"p":10,"b":6,"g":2,"x":319,"y0":-57,"y1":57},{"p":10,"b":6,"g":2,"x":340,"y0":-46,"y1":46},{"p":10,"b":6,"g":2,"x":360,"y0":-43,"y1":43},{"p":10,"b":7,"g":1,"x":0,"y0":-37,"y1":37},{"p":10,"b":7,"g":1,"x":16,"y0":-34,"y1":34},{"p":10,"b":7,"g":1,"x":41,"y0":-28,"y1":28},{"p":10,"b":7,"g":1,"x":59,"y0":-21,"y1":21},{"p":10,"b":7,"g":1,"x":68,"y0":-10,"y1":10},{"p":10,"b":7,"g":1,"x":70,"y0":0,"y1":0},{"p":10,"b":7,"g":2,"x":225,"y0":0,"y1":0},{"p":10,"b":7,"g":2,"x":231,"y0":-27,"y1":27},{"p":10,"b":7,"g":2,"x":247,"y0":-40,"y1":40},{"p":10,"b":7,"g":2,"x":271,"y0":-48,"y1":48},{"p":10,"b":7,"g":2,"x":301,"y0":-51,"y1":51},{"p":10,"b":7,"g":2,"x":332,"y0":-46,"y1":46},{"p":10,"b":7,"g":2,"x":347,"y0":-40,"y1":40},{"p":10,"b":7,"g":2,"x":360,"y0":-38,"y1":38},{"p":10,"b":8,"g":1,"x":0,"y0":-31,"y1":31},{"p":10,"b":8,"g":1,"x":41,"y0":-27,"y1":27},{"p":10,"b":8,"g":1,"x":45,"y0":0,"y1":0},{"p":10,"b":8,"g":2,"x":247,"y0":0,"y1":0},{"p":10,"b":8,"g":2,"x":250,"y0":-18,"y1":18},{"p":10,"b":8,"g":2,"x":259,"y0":-32,"y1":32},{"p":10,"b":8,"g":2,"x":283,"y0":-44,"y1":44},{"p":10,"b":8,"g":2,"x":338,"y0":-44,"y1":44},{"p":10,"b":8,"g":2,"x":345,"y0":-39,"y1":39},{"p":10,"b":8,"g":2,"x":360,"y0":-39,"y1":39},{"p":10,"b":9,"g":1,"x":0,"y0":-26,"y1":26},{"p":10,"b":9,"g":1,"x":10,"y0":-12,"y1":12},{"p":10,"b":9,"g":1,"x":15,"y0":0,"y1":0},{"p":10,"b":9,"g":2,"x":255,"y0":0,"y1":0},{"p":10,"b":9,"g":2,"x":259,"y0":-23,"y1":23},{"p":10,"b":9,"g":2,"x":274,"y0":-37,"y1":37},{"p":10,"b":9,"g":2,"x":289,"y0":-41,"y1":41},{"p":10,"b":9,"g":2,"x":338,"y0":-41,"y1":41},{"p":10,"b":9,"g":2,"x":360,"y0":-36,"y1":36},{"p":10,"b":10,"x":260,"y0":0,"y1":0},{"p":10,"b":10,"x":268,"y0":-23,"y1":23},{"p":10,"b":10,"x":289,"y0":-32,"y1":32},{"p":10,"b":10,"x":319,"y0":-32,"y1":32},{"p":10,"b":10,"x":350,"y0":-15,"y1":15},{"p":10,"b":10,"x":360,"y0":-8,"y1":8},{"p":10,"b":11,"x":277,"y0":0,"y1":0},{"p":10,"b":11,"x":283,"y0":-15,"y1":15},{"p":10,"b":11,"x":307,"y0":-17,"y1":18},{"p":10,"b":11,"x":330,"y0":0,"y1":0},
{"p":11,"b":2,"x":0,"y0":-90,"y1":90},{"p":11,"b":2,"x":360,"y0":-90,"y1":90},{"p":11,"b":1,"g":1,"x":0,"y0":50,"y1":57},{"p":11,"b":1,"g":1,"x":25,"y0":50,"y1":68},{"p":11,"b":1,"g":1,"x":38,"y0":50,"y1":72},{"p":11,"b":1,"g":1,"x":40,"y0":50,"y1":90},{"p":11,"b":1,"g":1,"x":180,"y0":49,"y1":90},{"p":11,"b":1,"g":1,"x":185,"y0":49,"y1":90},{"p":11,"b":1,"g":2,"x":0,"y0":-68,"y1":-54},{"p":11,"b":1,"g":2,"x":20,"y0":-80,"y1":-54},{"p":11,"b":1,"g":2,"x":25,"y0":-90,"y1":-53},{"p":11,"b":1,"g":2,"x":180,"y0":-90,"y1":-52},{"p":11,"b":1,"g":2,"x":185,"y0":-90,"y1":-52},{"p":11,"b":1,"g":3,"x":135,"y0":0,"y1":0},{"p":11,"b":1,"g":3,"x":145,"y0":-21,"y1":21},{"p":11,"b":1,"g":3,"x":164,"y0":-34,"y1":38},{"p":11,"b":1,"g":3,"x":178,"y0":-30,"y1":40},{"p":11,"b":3,"g":1,"x":0,"y0":-44,"y1":44},{"p":11,"b":3,"g":1,"x":30,"y0":-37,"y1":37},{"p":11,"b":3,"g":1,"x":45,"y0":-22,"y1":22},{"p":11,"b":3,"g":1,"x":52,"y0":0,"y1":0},{"p":11,"b":3,"g":2,"x":191,"y0":0,"y1":0},{"p":11,"b":3,"g":2,"x":194,"y0":-43,"y1":43},{"p":11,"b":3,"g":2,"x":206,"y0":-68,"y1":68},{"p":11,"b":3,"g":2,"x":230,"y0":-79,"y1":79},{"p":11,"b":3,"g":2,"x":279,"y0":-83,"y1":83},{"p":11,"b":3,"g":2,"x":327,"y0":-81,"y1":81},{"p":11,"b":3,"g":2,"x":360,"y0":-68,"y1":68},{"p":11,"b":4,"g":1,"x":0,"y0":-42,"y1":42},{"p":11,"b":4,"g":1,"x":20,"y0":-35,"y1":35},{"p":11,"b":4,"g":1,"x":33,"y0":-15,"y1":15},{"p":11,"b":4,"g":1,"x":36,"y0":0,"y1":0},{"p":11,"b":4,"g":2,"x":197,"y0":0,"y1":0},{"p":11,"b":4,"g":2,"x":200,"y0":-37,"y1":37},{"p":11,"b":4,"g":2,"x":212,"y0":-59,"y1":59},{"p":11,"b":4,"g":2,"x":236,"y0":-71,"y1":71},{"p":11,"b":4,"g":2,"x":279,"y0":-76,"y1":76},{"p":11,"b":4,"g":2,"x":327,"y0":-73,"y1":73},{"p":11,"b":4,"g":2,"x":360,"y0":-54,"y1":54},{"p":11,"b":5,"g":1,"x":0,"y0":-40,"y1":40},{"p":11,"b":5,"g":1,"x":20,"y0":-28,"y1":28},{"p":11,"b":5,"g":1,"x":30,"y0":0,"y1":0},{"p":11,"b":5,"g":2,"x":205,"y0":0,"y1":0},{"p":11,"b":5,"g":2,"x":208,"y0":-32,"y1":32},{"p":11,"b":5,"g":2,"x":221,"y0":-54,"y1":54},{"p":11,"b":5,"g":2,"x":245,"y0":-65,"y1":65},{"p":11,"b":5,"g":2,"x":279,"y0":-71,"y1":71},{"p":11,"b":5,"g":2,"x":321,"y0":-66,"y1":66},{"p":11,"b":5,"g":2,"x":339,"y0":-57,"y1":57},{"p":11,"b":5,"g":2,"x":360,"y0":-45,"y1":45},{"p":11,"b":6,"g":1,"x":0,"y0":-37,"y1":37},{"p":11,"b":6,"g":1,"x":15,"y0":-28,"y1":28},{"p":11,"b":6,"g":1,"x":25,"y0":0,"y1":0},{"p":11,"b":6,"g":2,"x":212,"y0":0,"y1":0},{"p":11,"b":6,"g":2,"x":216,"y0":-26,"y1":26},{"p":11,"b":6,"g":2,"x":227,"y0":-46,"y1":46},{"p":11,"b":6,"g":2,"x":251,"y0":-58,"y1":58},{"p":11,"b":6,"g":2,"x":279,"y0":-62,"y1":62},{"p":11,"b":6,"g":2,"x":315,"y0":-59,"y1":59},{"p":11,"b":6,"g":2,"x":339,"y0":-48,"y1":48},{"p":11,"b":6,"g":2,"x":360,"y0":-43,"y1":43},{"p":11,"b":7,"g":1,"x":0,"y0":-33,"y1":33},{"p":11,"b":7,"g":1,"x":12,"y0":-28,"y1":28},{"p":11,"b":7,"g":1,"x":21,"y0":0,"y1":0},{"p":11,"b":7,"g":2,"x":219,"y0":0,"y1":0},{"p":11,"b":7,"g":2,"x":223,"y0":-23,"y1":23},{"p":11,"b":7,"g":2,"x":236,"y0":-40,"y1":40},{"p":11,"b":7,"g":2,"x":258,"y0":-51,"y1":51},{"p":11,"b":7,"g":2,"x":285,"y0":-54,"y1":54},{"p":11,"b":7,"g":2,"x":315,"y0":-51,"y1":51},{"p":11,"b":7,"g":2,"x":333,"y0":-43,"y1":43},{"p":11,"b":7,"g":2,"x":345,"y0":-36,"y1":36},{"p":11,"b":8,"g":1,"x":0,"y0":-29,"y1":28},{"p":11,"b":8,"g":1,"x":12,"y0":-24,"y1":24},{"p":11,"b":8,"g":1,"x":18,"y0":0,"y1":0},{"p":11,"b":8,"g":2,"x":245,"y0":0,"y1":0},{"p":11,"b":8,"g":2,"x":248,"y0":-23,"y1":23},{"p":11,"b":8,"g":2,"x":258,"y0":-34,"y1":34},{"p":11,"b":8,"g":2,"x":273,"y0":-45,"y1":43},{"p":11,"b":8,"g":2,"x":339,"y0":-45,"y1":43},{"p":11,"b":8,"g":2,"x":360,"y0":-38,"y1":37},{"p":11,"b":9,"x":248,"y0":0,"y1":0},{"p":11,"b":9,"x":251,"y0":-21,"y1":21},{"p":11,"b":9,"x":261,"y0":-32,"y1":32},{"p":11,"b":9,"x":276,"y0":-40,"y1":39},{"p":11,"b":9,"x":333,"y0":-40,"y1":39},{"p":11,"b":9,"x":360,"y0":-34,"y1":34},{"p":11,"b":10,"x":253,"y0":0,"y1":0},{"p":11,"b":10,"x":255,"y0":-15,"y1":15},{"p":11,"b":10,"x":267,"y0":-29,"y1":29},{"p":11,"b":10,"x":279,"y0":-34,"y1":34},{"p":11,"b":10,"x":315,"y0":-34,"y1":34},{"p":11,"b":10,"x":339,"y0":-21,"y1":21},{"p":11,"b":10,"x":353,"y0":0,"y1":0},{"p":11,"b":11,"x":258,"y0":0,"y1":0},{"p":11,"b":11,"x":264,"y0":-18,"y1":18},{"p":11,"b":11,"x":279,"y0":-29,"y1":29},{"p":11,"b":11,"x":309,"y0":-29,"y1":29},{"p":11,"b":11,"x":333,"y0":-12,"y1":12},{"p":11,"b":11,"x":336,"y0":0,"y1":0},{"p":11,"b":12,"x":285,"y0":0,"y1":0},{"p":11,"b":12,"x":294,"y0":-7,"y1":8},{"p":11,"b":12,"x":303,"y0":-4,"y1":4},{"p":11,"b":12,"x":310,"y0":0,"y1":0},
{"p":12,"b":2,"x":0,"y0":-90,"y1":90},{"p":12,"b":2,"x":360,"y0":-90,"y1":90},{"p":12,"b":1,"x":51,"y0":0,"y1":0},{"p":12,"b":1,"x":56,"y0":-20,"y1":22},{"p":12,"b":1,"x":71,"y0":-36,"y1":36},{"p":12,"b":1,"x":89,"y0":-40,"y1":39},{"p":12,"b":1,"x":113,"y0":-31,"y1":29},{"p":12,"b":1,"x":135,"y0":-17,"y1":13},{"p":12,"b":1,"x":150,"y0":0,"y1":0},{"p":12,"b":3,"x":181,"y0":-55,"y1":55},{"p":12,"b":3,"x":183,"y0":-65,"y1":65},{"p":12,"b":3,"x":192,"y0":-82,"y1":82},{"p":12,"b":3,"x":216,"y0":-87,"y1":86},{"p":12,"b":3,"x":337,"y0":-87,"y1":86},{"p":12,"b":3,"x":350,"y0":-79,"y1":79},{"p":12,"b":3,"x":360,"y0":-73,"y1":73},{"p":12,"b":4,"x":187,"y0":-60,"y1":60},{"p":12,"b":4,"x":195,"y0":-70,"y1":68},{"p":12,"b":4,"x":210,"y0":-79,"y1":79},{"p":12,"b":4,"x":247,"y0":-82,"y1":82},{"p":12,"b":4,"x":313,"y0":-82,"y1":82},{"p":12,"b":4,"x":337,"y0":-73,"y1":73},{"p":12,"b":4,"x":350,"y0":-60,"y1":60},{"p":12,"b":5,"x":197,"y0":-55,"y1":55},{"p":12,"b":5,"x":201,"y0":-64,"y1":62},{"p":12,"b":5,"x":216,"y0":-73,"y1":73},{"p":12,"b":5,"x":253,"y0":-77,"y1":76},{"p":12,"b":5,"x":301,"y0":-77,"y1":76},{"p":12,"b":5,"x":325,"y0":-70,"y1":71},{"p":12,"b":5,"x":340,"y0":-54,"y1":54},{"p":12,"b":5,"x":342,"y0":-40,"y1":40},{"p":12,"b":6,"x":203,"y0":-30,"y1":30},{"p":12,"b":6,"x":213,"y0":-58,"y1":60},{"p":12,"b":6,"x":247,"y0":-72,"y1":69},{"p":12,"b":6,"x":289,"y0":-72,"y1":69},{"p":12,"b":6,"x":320,"y0":-62,"y1":58},{"p":12,"b":6,"x":335,"y0":-35,"y1":10},{"p":12,"b":8,"x":204,"y0":-20,"y1":15},{"p":12,"b":8,"x":207,"y0":-35,"y1":26},{"p":12,"b":8,"x":216,"y0":-52,"y1":57},{"p":12,"b":8,"x":228,"y0":-60,"y1":62},{"p":12,"b":8,"x":247,"y0":-70,"y1":67},{"p":12,"b":8,"x":289,"y0":-70,"y1":67},{"p":12,"b":8,"x":313,"y0":-60,"y1":61},{"p":12,"b":8,"x":328,"y0":-42,"y1":43},{"p":12,"b":8,"x":333,"y0":-35,"y1":10},{"p":12,"b":9,"x":207,"y0":0,"y1":0},{"p":12,"b":9,"x":214,"y0":-40,"y1":36},{"p":12,"b":9,"x":228,"y0":-60,"y1":57},{"p":12,"b":9,"x":250,"y0":-66,"y1":64},{"p":12,"b":9,"x":290,"y0":-66,"y1":64},{"p":12,"b":9,"x":313,"y0":-50,"y1":48},{"p":12,"b":9,"x":328,"y0":-25,"y1":20},{"p":12,"b":9,"x":330,"y0":0,"y1":0},{"p":12,"b":10,"x":215,"y0":0,"y1":0},{"p":12,"b":10,"x":221,"y0":-35,"y1":32},{"p":12,"b":10,"x":235,"y0":-54,"y1":50},{"p":12,"b":10,"x":268,"y0":-60,"y1":59.5},{"p":12,"b":10,"x":300,"y0":-55,"y1":54},{"p":12,"b":10,"x":320,"y0":-35,"y1":28},{"p":12,"b":10,"x":325,"y0":0,"y1":0},{"p":12,"b":11,"x":221,"y0":0,"y1":0},{"p":12,"b":11,"x":226,"y0":-30,"y1":28},{"p":12,"b":11,"x":240,"y0":-48,"y1":45},{"p":12,"b":11,"x":268,"y0":-54,"y1":54},{"p":12,"b":11,"x":295,"y0":-50,"y1":50},{"p":12,"b":11,"x":313,"y0":-30,"y1":28},{"p":12,"b":11,"x":319,"y0":0,"y1":0},{"p":12,"b":12,"x":228,"y0":0,"y1":0},{"p":12,"b":12,"x":232,"y0":-25,"y1":22},{"p":12,"b":12,"x":245,"y0":-40,"y1":37},{"p":12,"b":12,"x":268,"y0":-46,"y1":43},{"p":12,"b":12,"x":290,"y0":-42,"y1":40},{"p":12,"b":12,"x":302,"y0":-25,"y1":25},{"p":12,"b":12,"x":308,"y0":0,"y1":0},{"p":12,"b":13,"x":250,"y0":0,"y1":0},{"p":12,"b":13,"x":255,"y0":-8,"y1":10},{"p":12,"b":13,"x":260,"y0":-17,"y1":17},{"p":12,"b":13,"x":268,"y0":-21,"y1":18},{"p":12,"b":13,"x":278,"y0":-17,"y1":15},{"p":12,"b":13,"x":285,"y0":-8,"y1":7},{"p":12,"b":13,"x":287,"y0":0,"y1":0}
]},
"hconcat":[{"columns":2,"bounds":"flush","spacing":{"row":30.8,"column":46.5},"concat":[
{"width":198,"height":108,"resolve":{"axis":{"x":"independent","y":"independent"}},"layer":[
{"data":{"name":"bands"},"transform":[{"filter":"datum.p==1"}],"mark":{"type":"area","clip":true},"encoding":{"x":{"field":"x","type":"quantitative","scale":{"domain":[0,360],"nice":false,"zero":false},"axis":{"orient":"bottom","values":[0,60,120,180,240,300,360],"labels":false,"tickSize":-4,"zindex":1,"title":null}},"y":{"field":"y0","type":"quantitative","scale":{"domain":[-90,90],"nice":false,"zero":false},"axis":{"orient":"left","values":[-60,-30,0,30,60],"tickSize":-4,"labelPadding":11,"titlePadding":6,"zindex":1,"title":"latitude","labelExpr":"datum.value>0?datum.value+'N':datum.value<0?(-datum.value)+'S':'0'"}},"y2":{"field":"y1"},"color":{"field":"b","type":"ordinal","scale":{"domain":[0,1,2,3,4,5,6,7,8,9,10,11,12,13,14]},"legend":null},"detail":{"field":"g"}}},
{"data":{"name":"lines"},"transform":[{"filter":"datum.p==1"}],"mark":{"type":"line","clip":true,"color":"#333333","strokeWidth":2.6},"encoding":{"x":{"field":"x","type":"quantitative","axis":{"orient":"top","values":[0,90,180,270],"labelPadding":10,"tickSize":-4,"zindex":1,"title":null,"labelExpr":"datum.value==0?'sunset':datum.value==90?'antistellar':datum.value==180?'dawn':'substellar'"}},"y":{"field":"y","type":"quantitative","axis":{"orient":"right","values":[-60,-30,0,30,60],"labels":false,"tickSize":-4,"zindex":1,"title":null}},"detail":{"field":"g"},"order":{"field":"i"}}},
{"data":{"name":"titles"},"transform":[{"filter":"datum.p==1"}],"layer":[{"mark":{"type":"text","align":"left","fontSize":14,"dy":-18.5,"baseline":"alphabetic"},"encoding":{"x":{"datum":0,"type":"quantitative","axis":{"orient":"bottom","values":[30,90,150,210,270,330],"labels":false,"domain":false,"tickSize":-2,"zindex":1,"title":null}},"y":{"datum":90,"type":"quantitative","axis":null},"text":{"value":"P"}}},{"mark":{"type":"text","align":"left","fontSize":8.5,"dx":9,"dy":-15.5,"baseline":"alphabetic"},"encoding":{"x":{"datum":0,"type":"quantitative","axis":null},"y":{"datum":90,"type":"quantitative","axis":null},"text":{"value":"rot"}}},{"mark":{"type":"text","align":"left","fontSize":14,"dx":22.5,"dy":-18.5,"baseline":"alphabetic"},"encoding":{"x":{"datum":0,"type":"quantitative","axis":null},"y":{"datum":90,"type":"quantitative","axis":null},"text":{"field":"t"}}}]}
]},
{"width":198,"height":108,"resolve":{"axis":{"x":"independent","y":"independent"}},"layer":[
{"data":{"name":"bands"},"transform":[{"filter":"datum.p==2"}],"mark":{"type":"area","clip":true},"encoding":{"x":{"field":"x","type":"quantitative","scale":{"domain":[0,360],"nice":false,"zero":false},"axis":{"orient":"bottom","values":[0,60,120,180,240,300,360],"labels":false,"tickSize":-4,"zindex":1,"title":null}},"y":{"field":"y0","type":"quantitative","scale":{"domain":[-90,90],"nice":false,"zero":false},"axis":{"orient":"left","values":[-60,-30,0,30,60],"labels":false,"tickSize":-4,"zindex":1,"title":null}},"y2":{"field":"y1"},"color":{"field":"b","type":"ordinal","scale":{"domain":[0,1,2,3,4,5,6,7,8,9,10,11,12,13,14]},"legend":null},"detail":{"field":"g"}}},
{"data":{"name":"lines"},"transform":[{"filter":"datum.p==2"}],"mark":{"type":"line","clip":true,"color":"#333333","strokeWidth":2.6},"encoding":{"x":{"field":"x","type":"quantitative","axis":{"orient":"top","values":[0,90,180,270],"labelPadding":10,"tickSize":-4,"zindex":1,"title":null,"labelExpr":"datum.value==0?'sunset':datum.value==90?'antistellar':datum.value==180?'dawn':'substellar'"}},"y":{"field":"y","type":"quantitative","axis":{"orient":"right","values":[-60,-30,0,30,60],"labels":false,"tickSize":-4,"zindex":1,"title":null}},"detail":{"field":"g"},"order":{"field":"i"}}},
{"data":{"name":"titles"},"transform":[{"filter":"datum.p==2"}],"layer":[{"mark":{"type":"text","align":"left","fontSize":14,"dy":-18.5,"baseline":"alphabetic"},"encoding":{"x":{"datum":0,"type":"quantitative","axis":{"orient":"bottom","values":[30,90,150,210,270,330],"labels":false,"domain":false,"tickSize":-2,"zindex":1,"title":null}},"y":{"datum":90,"type":"quantitative","axis":null},"text":{"value":"P"}}},{"mark":{"type":"text","align":"left","fontSize":8.5,"dx":9,"dy":-15.5,"baseline":"alphabetic"},"encoding":{"x":{"datum":0,"type":"quantitative","axis":null},"y":{"datum":90,"type":"quantitative","axis":null},"text":{"value":"rot"}}},{"mark":{"type":"text","align":"left","fontSize":14,"dx":22.5,"dy":-18.5,"baseline":"alphabetic"},"encoding":{"x":{"datum":0,"type":"quantitative","axis":null},"y":{"datum":90,"type":"quantitative","axis":null},"text":{"field":"t"}}}]}
]},
{"width":198,"height":108,"resolve":{"axis":{"x":"independent","y":"independent"}},"layer":[
{"data":{"name":"bands"},"transform":[{"filter":"datum.p==3"}],"mark":{"type":"area","clip":true},"encoding":{"x":{"field":"x","type":"quantitative","scale":{"domain":[0,360],"nice":false,"zero":false},"axis":{"orient":"bottom","values":[0,60,120,180,240,300,360],"labels":false,"tickSize":-4,"zindex":1,"title":null}},"y":{"field":"y0","type":"quantitative","scale":{"domain":[-90,90],"nice":false,"zero":false},"axis":{"orient":"left","values":[-60,-30,0,30,60],"tickSize":-4,"labelPadding":11,"titlePadding":6,"zindex":1,"title":"latitude","labelExpr":"datum.value>0?datum.value+'N':datum.value<0?(-datum.value)+'S':'0'"}},"y2":{"field":"y1"},"color":{"field":"b","type":"ordinal","scale":{"domain":[0,1,2,3,4,5,6,7,8,9,10,11,12,13,14]},"legend":null},"detail":{"field":"g"}}},
{"data":{"name":"lines"},"transform":[{"filter":"datum.p==3"}],"mark":{"type":"line","clip":true,"color":"#333333","strokeWidth":2.6},"encoding":{"x":{"field":"x","type":"quantitative","axis":{"orient":"top","values":[0,90,180,270],"labels":false,"tickSize":-4,"zindex":1,"title":null}},"y":{"field":"y","type":"quantitative","axis":{"orient":"right","values":[-60,-30,0,30,60],"labels":false,"tickSize":-4,"zindex":1,"title":null}},"detail":{"field":"g"},"order":{"field":"i"}}},
{"data":{"name":"titles"},"transform":[{"filter":"datum.p==3"}],"layer":[{"mark":{"type":"text","align":"left","fontSize":14,"dy":-3,"baseline":"alphabetic"},"encoding":{"x":{"datum":0,"type":"quantitative","axis":{"orient":"bottom","values":[30,90,150,210,270,330],"labels":false,"domain":false,"tickSize":-2,"zindex":1,"title":null}},"y":{"datum":90,"type":"quantitative","axis":null},"text":{"value":"P"}}},{"mark":{"type":"text","align":"left","fontSize":8.5,"dx":9,"dy":0,"baseline":"alphabetic"},"encoding":{"x":{"datum":0,"type":"quantitative","axis":null},"y":{"datum":90,"type":"quantitative","axis":null},"text":{"value":"rot"}}},{"mark":{"type":"text","align":"left","fontSize":14,"dx":22.5,"dy":-3,"baseline":"alphabetic"},"encoding":{"x":{"datum":0,"type":"quantitative","axis":null},"y":{"datum":90,"type":"quantitative","axis":null},"text":{"field":"t"}}}]}
]},
{"width":198,"height":108,"resolve":{"axis":{"x":"independent","y":"independent"}},"layer":[
{"data":{"name":"bands"},"transform":[{"filter":"datum.p==4"}],"mark":{"type":"area","clip":true},"encoding":{"x":{"field":"x","type":"quantitative","scale":{"domain":[0,360],"nice":false,"zero":false},"axis":{"orient":"bottom","values":[0,60,120,180,240,300,360],"labels":false,"tickSize":-4,"zindex":1,"title":null}},"y":{"field":"y0","type":"quantitative","scale":{"domain":[-90,90],"nice":false,"zero":false},"axis":{"orient":"left","values":[-60,-30,0,30,60],"labels":false,"tickSize":-4,"zindex":1,"title":null}},"y2":{"field":"y1"},"color":{"field":"b","type":"ordinal","scale":{"domain":[0,1,2,3,4,5,6,7,8,9,10,11,12,13,14]},"legend":null},"detail":{"field":"g"}}},
{"data":{"name":"lines"},"transform":[{"filter":"datum.p==4"}],"mark":{"type":"line","clip":true,"color":"#333333","strokeWidth":2.6},"encoding":{"x":{"field":"x","type":"quantitative","axis":{"orient":"top","values":[0,90,180,270],"labels":false,"tickSize":-4,"zindex":1,"title":null}},"y":{"field":"y","type":"quantitative","axis":{"orient":"right","values":[-60,-30,0,30,60],"labels":false,"tickSize":-4,"zindex":1,"title":null}},"detail":{"field":"g"},"order":{"field":"i"}}},
{"data":{"name":"titles"},"transform":[{"filter":"datum.p==4"}],"layer":[{"mark":{"type":"text","align":"left","fontSize":14,"dy":-3,"baseline":"alphabetic"},"encoding":{"x":{"datum":0,"type":"quantitative","axis":{"orient":"bottom","values":[30,90,150,210,270,330],"labels":false,"domain":false,"tickSize":-2,"zindex":1,"title":null}},"y":{"datum":90,"type":"quantitative","axis":null},"text":{"value":"P"}}},{"mark":{"type":"text","align":"left","fontSize":8.5,"dx":9,"dy":0,"baseline":"alphabetic"},"encoding":{"x":{"datum":0,"type":"quantitative","axis":null},"y":{"datum":90,"type":"quantitative","axis":null},"text":{"value":"rot"}}},{"mark":{"type":"text","align":"left","fontSize":14,"dx":22.5,"dy":-3,"baseline":"alphabetic"},"encoding":{"x":{"datum":0,"type":"quantitative","axis":null},"y":{"datum":90,"type":"quantitative","axis":null},"text":{"field":"t"}}}]}
]},
{"width":198,"height":108,"resolve":{"axis":{"x":"independent","y":"independent"}},"layer":[
{"data":{"name":"bands"},"transform":[{"filter":"datum.p==5"}],"mark":{"type":"area","clip":true},"encoding":{"x":{"field":"x","type":"quantitative","scale":{"domain":[0,360],"nice":false,"zero":false},"axis":{"orient":"bottom","values":[0,60,120,180,240,300,360],"labels":false,"tickSize":-4,"zindex":1,"title":null}},"y":{"field":"y0","type":"quantitative","scale":{"domain":[-90,90],"nice":false,"zero":false},"axis":{"orient":"left","values":[-60,-30,0,30,60],"tickSize":-4,"labelPadding":11,"titlePadding":6,"zindex":1,"title":"latitude","labelExpr":"datum.value>0?datum.value+'N':datum.value<0?(-datum.value)+'S':'0'"}},"y2":{"field":"y1"},"color":{"field":"b","type":"ordinal","scale":{"domain":[0,1,2,3,4,5,6,7,8,9,10,11,12,13,14]},"legend":null},"detail":{"field":"g"}}},
{"data":{"name":"lines"},"transform":[{"filter":"datum.p==5"}],"mark":{"type":"line","clip":true,"color":"#333333","strokeWidth":2.6},"encoding":{"x":{"field":"x","type":"quantitative","axis":{"orient":"top","values":[0,90,180,270],"labels":false,"tickSize":-4,"zindex":1,"title":null}},"y":{"field":"y","type":"quantitative","axis":{"orient":"right","values":[-60,-30,0,30,60],"labels":false,"tickSize":-4,"zindex":1,"title":null}},"detail":{"field":"g"},"order":{"field":"i"}}},
{"data":{"name":"titles"},"transform":[{"filter":"datum.p==5"}],"layer":[{"mark":{"type":"text","align":"left","fontSize":14,"dy":-3,"baseline":"alphabetic"},"encoding":{"x":{"datum":0,"type":"quantitative","axis":{"orient":"bottom","values":[30,90,150,210,270,330],"labels":false,"domain":false,"tickSize":-2,"zindex":1,"title":null}},"y":{"datum":90,"type":"quantitative","axis":null},"text":{"value":"P"}}},{"mark":{"type":"text","align":"left","fontSize":8.5,"dx":9,"dy":0,"baseline":"alphabetic"},"encoding":{"x":{"datum":0,"type":"quantitative","axis":null},"y":{"datum":90,"type":"quantitative","axis":null},"text":{"value":"rot"}}},{"mark":{"type":"text","align":"left","fontSize":14,"dx":22.5,"dy":-3,"baseline":"alphabetic"},"encoding":{"x":{"datum":0,"type":"quantitative","axis":null},"y":{"datum":90,"type":"quantitative","axis":null},"text":{"field":"t"}}}]}
]},
{"width":198,"height":108,"resolve":{"axis":{"x":"independent","y":"independent"}},"layer":[
{"data":{"name":"bands"},"transform":[{"filter":"datum.p==6"}],"mark":{"type":"area","clip":true,"interpolate":"monotone"},"encoding":{"x":{"field":"x","type":"quantitative","scale":{"domain":[0,360],"nice":false,"zero":false},"axis":{"orient":"bottom","values":[0,60,120,180,240,300,360],"labels":false,"tickSize":-4,"zindex":1,"title":null}},"y":{"field":"y0","type":"quantitative","scale":{"domain":[-90,90],"nice":false,"zero":false},"axis":{"orient":"left","values":[-60,-30,0,30,60],"labels":false,"tickSize":-4,"zindex":1,"title":null}},"y2":{"field":"y1"},"color":{"field":"b","type":"ordinal","scale":{"domain":[0,1,2,3,4,5,6,7,8,9,10,11,12,13,14]},"legend":null},"detail":{"field":"g"}}},
{"data":{"name":"lines"},"transform":[{"filter":"datum.p==6"}],"mark":{"type":"line","clip":true,"color":"#333333","strokeWidth":2.6},"encoding":{"x":{"field":"x","type":"quantitative","axis":{"orient":"top","values":[0,90,180,270],"labels":false,"tickSize":-4,"zindex":1,"title":null}},"y":{"field":"y","type":"quantitative","axis":{"orient":"right","values":[-60,-30,0,30,60],"labels":false,"tickSize":-4,"zindex":1,"title":null}},"detail":{"field":"g"},"order":{"field":"i"}}},
{"data":{"name":"titles"},"transform":[{"filter":"datum.p==6"}],"layer":[{"mark":{"type":"text","align":"left","fontSize":14,"dy":-3,"baseline":"alphabetic"},"encoding":{"x":{"datum":0,"type":"quantitative","axis":{"orient":"bottom","values":[30,90,150,210,270,330],"labels":false,"domain":false,"tickSize":-2,"zindex":1,"title":null}},"y":{"datum":90,"type":"quantitative","axis":null},"text":{"value":"P"}}},{"mark":{"type":"text","align":"left","fontSize":8.5,"dx":9,"dy":0,"baseline":"alphabetic"},"encoding":{"x":{"datum":0,"type":"quantitative","axis":null},"y":{"datum":90,"type":"quantitative","axis":null},"text":{"value":"rot"}}},{"mark":{"type":"text","align":"left","fontSize":14,"dx":22.5,"dy":-3,"baseline":"alphabetic"},"encoding":{"x":{"datum":0,"type":"quantitative","axis":null},"y":{"datum":90,"type":"quantitative","axis":null},"text":{"field":"t"}}}]}
]},
{"width":198,"height":108,"resolve":{"axis":{"x":"independent","y":"independent"}},"layer":[
{"data":{"name":"bands"},"transform":[{"filter":"datum.p==7"}],"mark":{"type":"area","clip":true,"interpolate":"monotone"},"encoding":{"x":{"field":"x","type":"quantitative","scale":{"domain":[0,360],"nice":false,"zero":false},"axis":{"orient":"bottom","values":[0,60,120,180,240,300,360],"labels":false,"tickSize":-4,"zindex":1,"title":null}},"y":{"field":"y0","type":"quantitative","scale":{"domain":[-90,90],"nice":false,"zero":false},"axis":{"orient":"left","values":[-60,-30,0,30,60],"tickSize":-4,"labelPadding":11,"titlePadding":6,"zindex":1,"title":"latitude","labelExpr":"datum.value>0?datum.value+'N':datum.value<0?(-datum.value)+'S':'0'"}},"y2":{"field":"y1"},"color":{"field":"b","type":"ordinal","scale":{"domain":[0,1,2,3,4,5,6,7,8,9,10,11,12,13,14]},"legend":null},"detail":{"field":"g"}}},
{"data":{"name":"lines"},"transform":[{"filter":"datum.p==7"}],"mark":{"type":"line","clip":true,"color":"#333333","strokeWidth":2.6},"encoding":{"x":{"field":"x","type":"quantitative","axis":{"orient":"top","values":[0,90,180,270],"labels":false,"tickSize":-4,"zindex":1,"title":null}},"y":{"field":"y","type":"quantitative","axis":{"orient":"right","values":[-60,-30,0,30,60],"labels":false,"tickSize":-4,"zindex":1,"title":null}},"detail":{"field":"g"},"order":{"field":"i"}}},
{"data":{"name":"titles"},"transform":[{"filter":"datum.p==7"}],"layer":[{"mark":{"type":"text","align":"left","fontSize":14,"dy":-3,"baseline":"alphabetic"},"encoding":{"x":{"datum":0,"type":"quantitative","axis":{"orient":"bottom","values":[30,90,150,210,270,330],"labels":false,"domain":false,"tickSize":-2,"zindex":1,"title":null}},"y":{"datum":90,"type":"quantitative","axis":null},"text":{"value":"P"}}},{"mark":{"type":"text","align":"left","fontSize":8.5,"dx":9,"dy":0,"baseline":"alphabetic"},"encoding":{"x":{"datum":0,"type":"quantitative","axis":null},"y":{"datum":90,"type":"quantitative","axis":null},"text":{"value":"rot"}}},{"mark":{"type":"text","align":"left","fontSize":14,"dx":22.5,"dy":-3,"baseline":"alphabetic"},"encoding":{"x":{"datum":0,"type":"quantitative","axis":null},"y":{"datum":90,"type":"quantitative","axis":null},"text":{"field":"t"}}}]}
]},
{"width":198,"height":108,"resolve":{"axis":{"x":"independent","y":"independent"}},"layer":[
{"data":{"name":"bands"},"transform":[{"filter":"datum.p==8"}],"mark":{"type":"area","clip":true,"interpolate":"monotone"},"encoding":{"x":{"field":"x","type":"quantitative","scale":{"domain":[0,360],"nice":false,"zero":false},"axis":{"orient":"bottom","values":[0,60,120,180,240,300,360],"labels":false,"tickSize":-4,"zindex":1,"title":null}},"y":{"field":"y0","type":"quantitative","scale":{"domain":[-90,90],"nice":false,"zero":false},"axis":{"orient":"left","values":[-60,-30,0,30,60],"labels":false,"tickSize":-4,"zindex":1,"title":null}},"y2":{"field":"y1"},"color":{"field":"b","type":"ordinal","scale":{"domain":[0,1,2,3,4,5,6,7,8,9,10,11,12,13,14]},"legend":null},"detail":{"field":"g"}}},
{"data":{"name":"lines"},"transform":[{"filter":"datum.p==8"}],"mark":{"type":"line","clip":true,"color":"#333333","strokeWidth":2.6},"encoding":{"x":{"field":"x","type":"quantitative","axis":{"orient":"top","values":[0,90,180,270],"labels":false,"tickSize":-4,"zindex":1,"title":null}},"y":{"field":"y","type":"quantitative","axis":{"orient":"right","values":[-60,-30,0,30,60],"labels":false,"tickSize":-4,"zindex":1,"title":null}},"detail":{"field":"g"},"order":{"field":"i"}}},
{"data":{"name":"titles"},"transform":[{"filter":"datum.p==8"}],"layer":[{"mark":{"type":"text","align":"left","fontSize":14,"dy":-3,"baseline":"alphabetic"},"encoding":{"x":{"datum":0,"type":"quantitative","axis":{"orient":"bottom","values":[30,90,150,210,270,330],"labels":false,"domain":false,"tickSize":-2,"zindex":1,"title":null}},"y":{"datum":90,"type":"quantitative","axis":null},"text":{"value":"P"}}},{"mark":{"type":"text","align":"left","fontSize":8.5,"dx":9,"dy":0,"baseline":"alphabetic"},"encoding":{"x":{"datum":0,"type":"quantitative","axis":null},"y":{"datum":90,"type":"quantitative","axis":null},"text":{"value":"rot"}}},{"mark":{"type":"text","align":"left","fontSize":14,"dx":22.5,"dy":-3,"baseline":"alphabetic"},"encoding":{"x":{"datum":0,"type":"quantitative","axis":null},"y":{"datum":90,"type":"quantitative","axis":null},"text":{"field":"t"}}}]}
]},
{"width":198,"height":108,"resolve":{"axis":{"x":"independent","y":"independent"}},"layer":[
{"data":{"name":"bands"},"transform":[{"filter":"datum.p==9"}],"mark":{"type":"area","clip":true,"interpolate":"monotone"},"encoding":{"x":{"field":"x","type":"quantitative","scale":{"domain":[0,360],"nice":false,"zero":false},"axis":{"orient":"bottom","values":[0,60,120,180,240,300,360],"labels":false,"tickSize":-4,"zindex":1,"title":null}},"y":{"field":"y0","type":"quantitative","scale":{"domain":[-90,90],"nice":false,"zero":false},"axis":{"orient":"left","values":[-60,-30,0,30,60],"tickSize":-4,"labelPadding":11,"titlePadding":6,"zindex":1,"title":"latitude","labelExpr":"datum.value>0?datum.value+'N':datum.value<0?(-datum.value)+'S':'0'"}},"y2":{"field":"y1"},"color":{"field":"b","type":"ordinal","scale":{"domain":[0,1,2,3,4,5,6,7,8,9,10,11,12,13,14]},"legend":null},"detail":{"field":"g"}}},
{"data":{"name":"lines"},"transform":[{"filter":"datum.p==9"}],"mark":{"type":"line","clip":true,"color":"#333333","strokeWidth":2.6},"encoding":{"x":{"field":"x","type":"quantitative","axis":{"orient":"top","values":[0,90,180,270],"labels":false,"tickSize":-4,"zindex":1,"title":null}},"y":{"field":"y","type":"quantitative","axis":{"orient":"right","values":[-60,-30,0,30,60],"labels":false,"tickSize":-4,"zindex":1,"title":null}},"detail":{"field":"g"},"order":{"field":"i"}}},
{"data":{"name":"titles"},"transform":[{"filter":"datum.p==9"}],"layer":[{"mark":{"type":"text","align":"left","fontSize":14,"dy":-3,"baseline":"alphabetic"},"encoding":{"x":{"datum":0,"type":"quantitative","axis":{"orient":"bottom","values":[30,90,150,210,270,330],"labels":false,"domain":false,"tickSize":-2,"zindex":1,"title":null}},"y":{"datum":90,"type":"quantitative","axis":null},"text":{"value":"P"}}},{"mark":{"type":"text","align":"left","fontSize":8.5,"dx":9,"dy":0,"baseline":"alphabetic"},"encoding":{"x":{"datum":0,"type":"quantitative","axis":null},"y":{"datum":90,"type":"quantitative","axis":null},"text":{"value":"rot"}}},{"mark":{"type":"text","align":"left","fontSize":14,"dx":22.5,"dy":-3,"baseline":"alphabetic"},"encoding":{"x":{"datum":0,"type":"quantitative","axis":null},"y":{"datum":90,"type":"quantitative","axis":null},"text":{"field":"t"}}}]}
]},
{"width":198,"height":108,"resolve":{"axis":{"x":"independent","y":"independent"}},"layer":[
{"data":{"name":"bands"},"transform":[{"filter":"datum.p==10"}],"mark":{"type":"area","clip":true,"interpolate":"monotone"},"encoding":{"x":{"field":"x","type":"quantitative","scale":{"domain":[0,360],"nice":false,"zero":false},"axis":{"orient":"bottom","values":[0,60,120,180,240,300,360],"labels":false,"tickSize":-4,"zindex":1,"title":null}},"y":{"field":"y0","type":"quantitative","scale":{"domain":[-90,90],"nice":false,"zero":false},"axis":{"orient":"left","values":[-60,-30,0,30,60],"labels":false,"tickSize":-4,"zindex":1,"title":null}},"y2":{"field":"y1"},"color":{"field":"b","type":"ordinal","scale":{"domain":[0,1,2,3,4,5,6,7,8,9,10,11,12,13,14]},"legend":null},"detail":{"field":"g"}}},
{"data":{"name":"lines"},"transform":[{"filter":"datum.p==10"}],"mark":{"type":"line","clip":true,"color":"#333333","strokeWidth":2.6},"encoding":{"x":{"field":"x","type":"quantitative","axis":{"orient":"top","values":[0,90,180,270],"labels":false,"tickSize":-4,"zindex":1,"title":null}},"y":{"field":"y","type":"quantitative","axis":{"orient":"right","values":[-60,-30,0,30,60],"labels":false,"tickSize":-4,"zindex":1,"title":null}},"detail":{"field":"g"},"order":{"field":"i"}}},
{"data":{"name":"titles"},"transform":[{"filter":"datum.p==10"}],"layer":[{"mark":{"type":"text","align":"left","fontSize":14,"dy":-3,"baseline":"alphabetic"},"encoding":{"x":{"datum":0,"type":"quantitative","axis":{"orient":"bottom","values":[30,90,150,210,270,330],"labels":false,"domain":false,"tickSize":-2,"zindex":1,"title":null}},"y":{"datum":90,"type":"quantitative","axis":null},"text":{"value":"P"}}},{"mark":{"type":"text","align":"left","fontSize":8.5,"dx":9,"dy":0,"baseline":"alphabetic"},"encoding":{"x":{"datum":0,"type":"quantitative","axis":null},"y":{"datum":90,"type":"quantitative","axis":null},"text":{"value":"rot"}}},{"mark":{"type":"text","align":"left","fontSize":14,"dx":22.5,"dy":-3,"baseline":"alphabetic"},"encoding":{"x":{"datum":0,"type":"quantitative","axis":null},"y":{"datum":90,"type":"quantitative","axis":null},"text":{"field":"t"}}}]}
]},
{"width":198,"height":108,"resolve":{"axis":{"x":"independent","y":"independent"}},"layer":[
{"data":{"name":"bands"},"transform":[{"filter":"datum.p==11"}],"mark":{"type":"area","clip":true,"interpolate":"monotone"},"encoding":{"x":{"field":"x","type":"quantitative","scale":{"domain":[0,360],"nice":false,"zero":false},"axis":{"orient":"bottom","values":[0,60,120,180,240,300,360],"tickSize":-4,"labelPadding":12,"titlePadding":5,"zindex":1,"title":"longitude","labelExpr":"datum.value==360?'':datum.value==0?'0':datum.value<180?datum.value+'E':datum.value==180?'180':(360-datum.value)+'W'"}},"y":{"field":"y0","type":"quantitative","scale":{"domain":[-90,90],"nice":false,"zero":false},"axis":{"orient":"left","values":[-60,-30,0,30,60],"tickSize":-4,"labelPadding":11,"titlePadding":6,"zindex":1,"title":"latitude","labelExpr":"datum.value>0?datum.value+'N':datum.value<0?(-datum.value)+'S':'0'"}},"y2":{"field":"y1"},"color":{"field":"b","type":"ordinal","scale":{"domain":[0,1,2,3,4,5,6,7,8,9,10,11,12,13,14]},"legend":null},"detail":{"field":"g"}}},
{"data":{"name":"lines"},"transform":[{"filter":"datum.p==11"}],"mark":{"type":"line","clip":true,"color":"#333333","strokeWidth":2.6},"encoding":{"x":{"field":"x","type":"quantitative","axis":{"orient":"top","values":[0,90,180,270],"labels":false,"tickSize":-4,"zindex":1,"title":null}},"y":{"field":"y","type":"quantitative","axis":{"orient":"right","values":[-60,-30,0,30,60],"labels":false,"tickSize":-4,"zindex":1,"title":null}},"detail":{"field":"g"},"order":{"field":"i"}}},
{"data":{"name":"titles"},"transform":[{"filter":"datum.p==11"}],"layer":[{"mark":{"type":"text","align":"left","fontSize":14,"dy":-3,"baseline":"alphabetic"},"encoding":{"x":{"datum":0,"type":"quantitative","axis":{"orient":"bottom","values":[30,90,150,210,270,330],"labels":false,"domain":false,"tickSize":-2,"zindex":1,"title":null}},"y":{"datum":90,"type":"quantitative","axis":null},"text":{"value":"P"}}},{"mark":{"type":"text","align":"left","fontSize":8.5,"dx":9,"dy":0,"baseline":"alphabetic"},"encoding":{"x":{"datum":0,"type":"quantitative","axis":null},"y":{"datum":90,"type":"quantitative","axis":null},"text":{"value":"rot"}}},{"mark":{"type":"text","align":"left","fontSize":14,"dx":22.5,"dy":-3,"baseline":"alphabetic"},"encoding":{"x":{"datum":0,"type":"quantitative","axis":null},"y":{"datum":90,"type":"quantitative","axis":null},"text":{"field":"t"}}}]}
]},
{"width":198,"height":108,"resolve":{"axis":{"x":"independent","y":"independent"}},"layer":[
{"data":{"name":"bands"},"transform":[{"filter":"datum.p==12"}],"mark":{"type":"area","clip":true,"interpolate":"monotone"},"encoding":{"x":{"field":"x","type":"quantitative","scale":{"domain":[0,360],"nice":false,"zero":false},"axis":{"orient":"bottom","values":[0,60,120,180,240,300,360],"tickSize":-4,"labelPadding":12,"titlePadding":5,"zindex":1,"title":"longitude","labelExpr":"datum.value==360?'':datum.value==0?'0':datum.value<180?datum.value+'E':datum.value==180?'180':(360-datum.value)+'W'"}},"y":{"field":"y0","type":"quantitative","scale":{"domain":[-90,90],"nice":false,"zero":false},"axis":{"orient":"left","values":[-60,-30,0,30,60],"labels":false,"tickSize":-4,"zindex":1,"title":null}},"y2":{"field":"y1"},"color":{"field":"b","type":"ordinal","scale":{"domain":[0,1,2,3,4,5,6,7,8,9,10,11,12,13,14]},"legend":null},"detail":{"field":"g"}}},
{"data":{"name":"lines"},"transform":[{"filter":"datum.p==12"}],"mark":{"type":"line","clip":true,"color":"#333333","strokeWidth":2.6},"encoding":{"x":{"field":"x","type":"quantitative","axis":{"orient":"top","values":[0,90,180,270],"labels":false,"tickSize":-4,"zindex":1,"title":null}},"y":{"field":"y","type":"quantitative","axis":{"orient":"right","values":[-60,-30,0,30,60],"labels":false,"tickSize":-4,"zindex":1,"title":null}},"detail":{"field":"g"},"order":{"field":"i"}}},
{"data":{"name":"titles"},"transform":[{"filter":"datum.p==12"}],"layer":[{"mark":{"type":"text","align":"left","fontSize":14,"dy":-3,"baseline":"alphabetic"},"encoding":{"x":{"datum":0,"type":"quantitative","axis":{"orient":"bottom","values":[30,90,150,210,270,330],"labels":false,"domain":false,"tickSize":-2,"zindex":1,"title":null}},"y":{"datum":90,"type":"quantitative","axis":null},"text":{"value":"P"}}},{"mark":{"type":"text","align":"left","fontSize":8.5,"dx":9,"dy":0,"baseline":"alphabetic"},"encoding":{"x":{"datum":0,"type":"quantitative","axis":null},"y":{"datum":90,"type":"quantitative","axis":null},"text":{"value":"rot"}}},{"mark":{"type":"text","align":"left","fontSize":14,"dx":22.5,"dy":-3,"baseline":"alphabetic"},"encoding":{"x":{"datum":0,"type":"quantitative","axis":null},"y":{"datum":90,"type":"quantitative","axis":null},"text":{"field":"t"}}}]}
]}
]},{"width":28,"height":659,"data":{"name":"bar"},"layer":[
{"mark":{"type":"rect","stroke":"#555555","strokeWidth":1},"encoding":{"x":{"datum":0,"type":"quantitative","scale":{"domain":[0,1]},"axis":null},"x2":{"datum":1},"y":{"field":"i","type":"quantitative","scale":{"domain":[0,18.1],"nice":false,"zero":false},"axis":null},"y2":{"field":"j"},"color":{"field":"b","type":"ordinal","legend":null,"scale":{"domain":[0,1,2,3,4,5,6,7,8,9,10,11,12,13,14]}}}},
{"mark":{"type":"text","align":"left","fontSize":16,"dx":8},"encoding":{"x":{"datum":1,"type":"quantitative"},"y":{"field":"j","type":"quantitative"},"text":{"field":"lab"}}}
]}]}
